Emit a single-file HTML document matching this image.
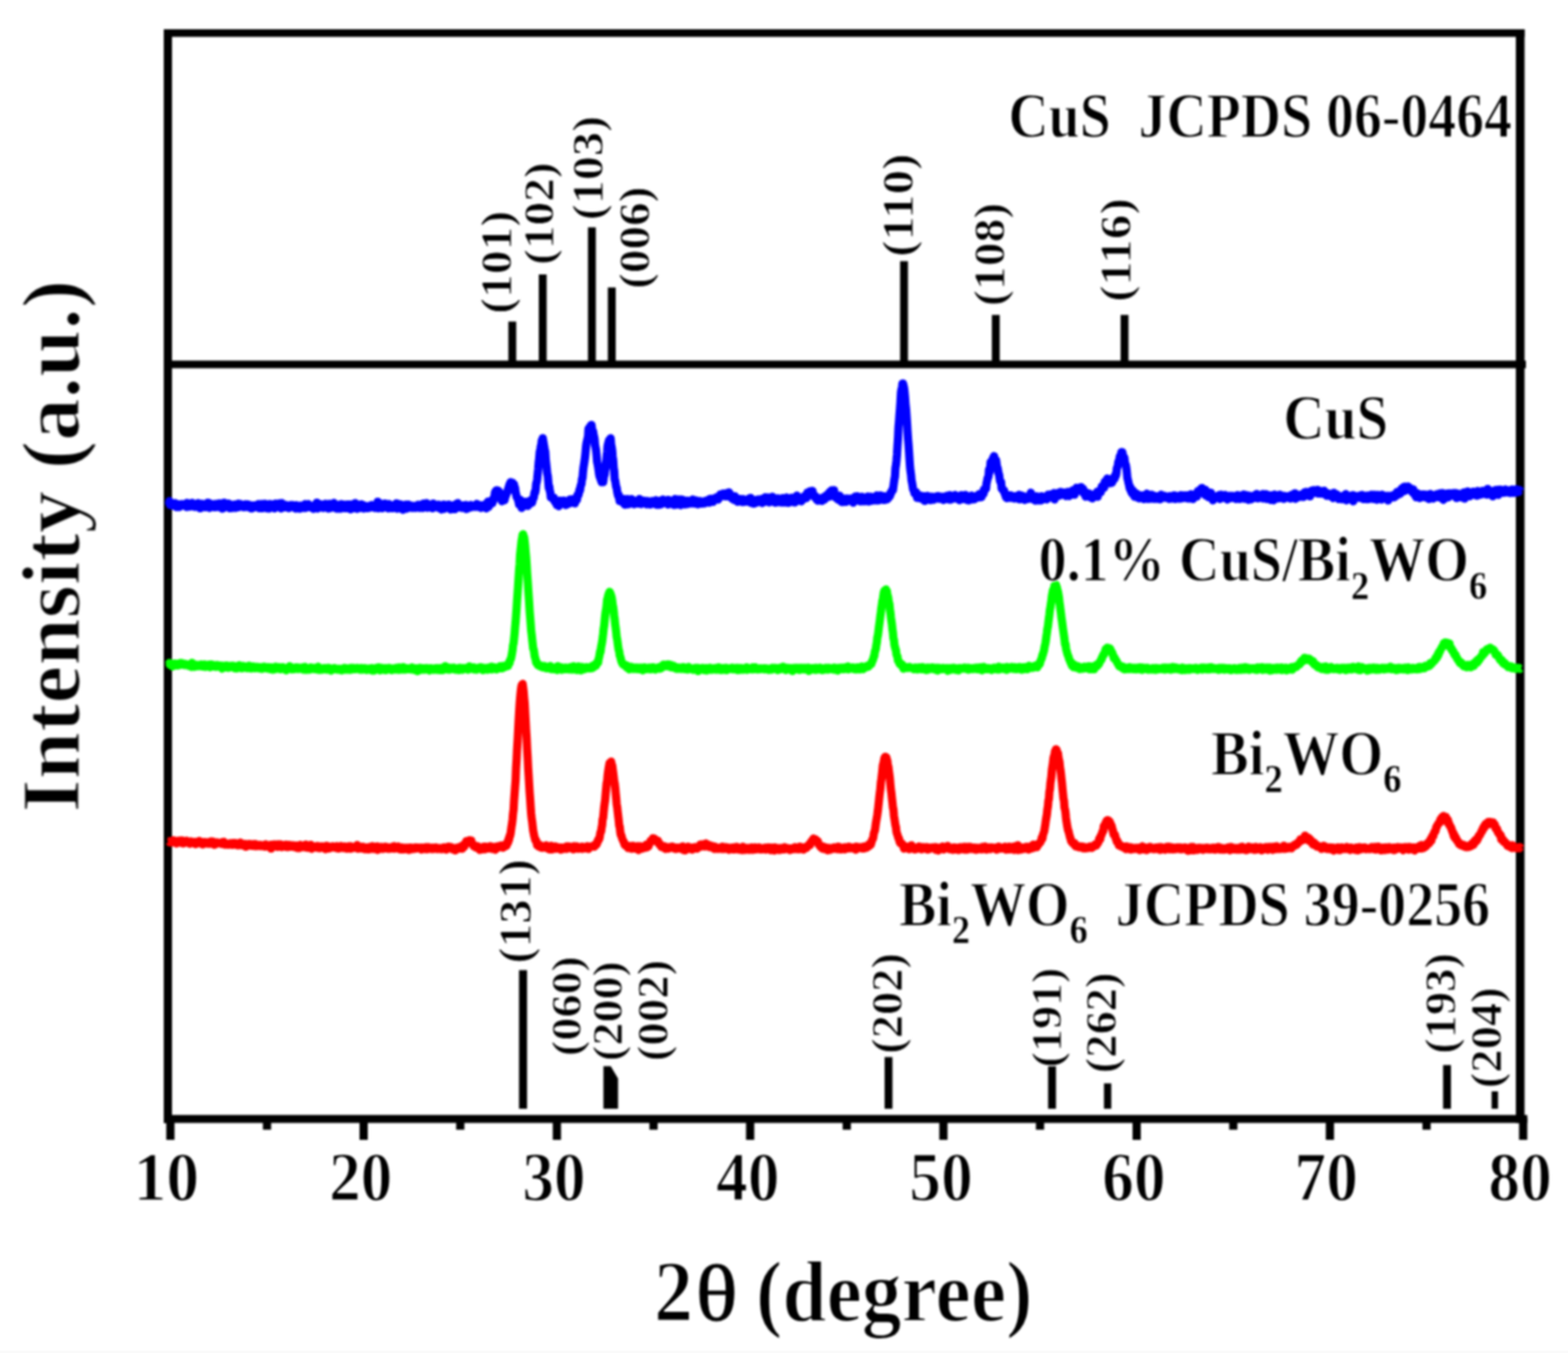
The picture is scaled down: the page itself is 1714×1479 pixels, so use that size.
<!DOCTYPE html>
<html lang="en"><head><meta charset="utf-8"><title>XRD patterns of CuS, Bi2WO6 and CuS/Bi2WO6</title>
<style>
html,body{margin:0;padding:0;background:#fff;}
body{width:1714px;height:1479px;overflow:hidden;}
svg{display:block;}
text{stroke:#fff;stroke-linejoin:round;white-space:pre;}
</style></head><body>
<svg width="1714" height="1479" viewBox="0 0 1714 1479" role="img" aria-label="XRD patterns">
<rect width="1714" height="1479" fill="#fff"/>
<rect y="1476.5" width="1714" height="2.5" fill="#fafafa"/>
<defs><filter id="soft" x="-2%" y="-2%" width="104%" height="104%" color-interpolation-filters="sRGB"><feGaussianBlur stdDeviation="0.9"/></filter></defs>
<g filter="url(#soft)" font-family="'Liberation Serif', 'DejaVu Serif', serif" font-weight="bold" fill="#000">
<g id="frame">
<rect x="179" y="32" width="9" height="1195.5"/>
<rect x="1657" y="32" width="9.5" height="1195.5"/>
<rect x="179" y="32" width="1487.5" height="8.3"/>
<rect x="179" y="394.2" width="1489" height="8.3"/>
<rect x="179" y="1218.8" width="1490.5" height="8.7"/>
<rect x="181.75" y="1222" width="9" height="24.0"/>
<rect x="287.38" y="1222" width="9" height="12.9"/>
<rect x="393.00" y="1222" width="9" height="24.0"/>
<rect x="498.62" y="1222" width="9" height="12.9"/>
<rect x="604.25" y="1222" width="9" height="24.0"/>
<rect x="709.88" y="1222" width="9" height="12.9"/>
<rect x="815.50" y="1222" width="9" height="24.0"/>
<rect x="921.12" y="1222" width="9" height="12.9"/>
<rect x="1026.75" y="1222" width="9" height="24.0"/>
<rect x="1132.38" y="1222" width="9" height="12.9"/>
<rect x="1238.00" y="1222" width="9" height="24.0"/>
<rect x="1343.62" y="1222" width="9" height="12.9"/>
<rect x="1449.25" y="1222" width="9" height="24.0"/>
<rect x="1554.88" y="1222" width="9" height="12.9"/>
<rect x="1660.50" y="1222" width="9" height="24.0"/>
</g>
<g id="sticks">
<rect x="555.70" y="351.50" width="8.6" height="47.00"/>
<rect x="588.95" y="300.00" width="8.6" height="98.50"/>
<rect x="642.70" y="248.50" width="8.6" height="150.00"/>
<rect x="664.45" y="314.25" width="8.6" height="84.25"/>
<rect x="983.90" y="285.50" width="8.6" height="113.00"/>
<rect x="1084.20" y="344.25" width="8.6" height="54.25"/>
<rect x="1224.95" y="344.25" width="8.6" height="54.25"/>
<rect x="567.35" y="1060.50" width="8.8" height="151.50"/>
<rect x="966.95" y="1155.50" width="8.6" height="56.50"/>
<rect x="1145.70" y="1165.50" width="8.6" height="46.50"/>
<rect x="1206.75" y="1184.25" width="8.0" height="27.75"/>
<rect x="1577.45" y="1164.25" width="8.6" height="47.75"/>
<rect x="1630.50" y="1193.00" width="7.0" height="19.00"/>
<polygon points="659.6,1165.5 667.6,1165.5 675.6,1179 675.6,1212 659.6,1212"/>
</g>
<g id="curves" fill="none" stroke-width="9.0" stroke-linejoin="round" stroke-linecap="butt">
<polyline stroke="#0000ff" points="183.5,551.8 184.1,551.8 184.6,551.8 185.2,547.8 185.7,551.8 186.3,551.4 186.8,551.0 187.4,552.3 187.9,552.5 188.5,550.3 189.0,550.6 189.6,551.2 190.1,552.9 190.7,552.7 191.2,550.0 191.8,550.2 192.3,553.0 192.9,554.3 193.4,551.9 194.0,550.9 194.5,553.6 195.1,551.5 195.6,553.1 196.2,554.3 196.7,552.9 197.3,552.1 197.8,553.1 198.4,551.1 198.9,551.8 199.5,551.2 200.0,551.7 200.6,551.3 201.1,551.8 201.7,551.5 202.2,552.2 202.8,552.2 203.3,552.5 203.9,554.2 204.4,549.8 205.0,554.1 205.5,551.8 206.1,550.3 206.6,551.9 207.2,552.3 207.7,553.8 208.3,550.6 208.8,552.5 209.4,552.4 209.9,549.7 210.5,550.4 211.0,553.1 211.6,553.3 212.1,553.9 212.7,553.0 213.2,552.8 213.8,552.4 214.3,554.1 214.9,551.0 215.4,552.1 216.0,552.9 216.5,549.9 217.1,554.3 217.6,551.1 218.2,552.2 218.7,555.6 219.3,551.1 219.8,551.5 220.4,554.7 220.9,550.7 221.5,551.7 222.0,553.1 222.6,553.1 223.1,553.3 223.7,553.0 224.2,554.4 224.8,553.9 225.3,553.3 225.9,551.4 226.4,551.4 227.0,549.6 227.5,553.5 228.1,549.7 228.6,553.8 229.2,555.2 229.7,550.9 230.3,551.5 230.8,551.8 231.4,553.8 231.9,551.2 232.5,552.3 233.0,551.8 233.6,552.2 234.1,554.5 234.7,551.1 235.2,552.7 235.8,553.0 236.3,553.9 236.9,550.7 237.4,554.3 238.0,553.3 238.5,553.9 239.1,552.7 239.6,550.2 240.2,551.7 240.7,553.9 241.3,552.7 241.8,552.6 242.4,555.4 242.9,556.0 243.5,552.6 244.0,555.6 244.6,549.7 245.1,549.6 245.7,554.0 246.2,552.3 246.8,553.6 247.3,553.5 247.9,552.6 248.4,553.8 249.0,553.0 249.5,550.5 250.1,553.1 250.6,553.1 251.2,555.6 251.7,551.1 252.3,552.8 252.8,552.2 253.4,552.6 253.9,555.3 254.5,553.4 255.0,552.2 255.6,553.1 256.1,554.0 256.7,551.4 257.2,552.5 257.8,555.2 258.3,554.2 258.9,552.9 259.4,552.2 260.0,552.7 260.5,550.6 261.1,554.4 261.6,553.5 262.2,553.2 262.7,551.0 263.3,551.9 263.8,553.8 264.4,553.4 264.9,552.3 265.5,553.8 266.0,554.4 266.6,552.0 267.1,552.2 267.7,551.7 268.2,551.3 268.8,554.3 269.3,553.8 269.9,553.6 270.4,551.3 271.0,551.5 271.5,553.0 272.1,552.5 272.6,553.3 273.2,552.1 273.7,554.1 274.3,555.8 274.8,555.5 275.4,555.6 275.9,553.3 276.5,554.6 277.0,552.6 277.6,554.6 278.1,552.6 278.7,552.5 279.2,552.3 279.8,554.3 280.3,553.7 280.9,553.5 281.4,551.5 282.0,553.5 282.5,551.1 283.1,555.5 283.6,553.1 284.2,553.6 284.7,553.1 285.3,550.9 285.8,551.3 286.4,553.3 286.9,555.6 287.5,551.7 288.0,552.3 288.6,553.3 289.1,550.8 289.7,550.8 290.2,552.8 290.8,553.3 291.3,552.8 291.9,555.7 292.4,553.1 293.0,553.9 293.5,555.8 294.1,555.9 294.6,551.0 295.2,552.8 295.7,555.1 296.3,551.3 296.8,552.0 297.4,551.5 297.9,551.4 298.5,551.7 299.0,553.7 299.6,555.3 300.1,555.7 300.7,553.4 301.2,550.5 301.8,553.3 302.3,552.9 302.9,553.9 303.4,553.2 304.0,550.7 304.5,554.0 305.1,550.3 305.6,552.4 306.2,553.9 306.7,553.9 307.3,555.8 307.8,549.9 308.4,553.9 308.9,554.5 309.5,552.9 310.0,554.4 310.6,551.8 311.1,554.4 311.7,554.2 312.2,552.0 312.8,552.4 313.3,553.1 313.9,552.4 314.4,555.0 315.0,553.7 315.5,555.4 316.1,555.2 316.6,553.5 317.2,553.2 317.7,552.0 318.3,552.2 318.8,552.2 319.4,554.0 319.9,552.1 320.5,553.6 321.0,553.7 321.6,552.7 322.1,553.2 322.7,555.6 323.2,555.9 323.8,552.3 324.3,553.2 324.9,552.9 325.4,553.0 326.0,555.8 326.5,554.5 327.1,555.4 327.6,556.1 328.2,552.8 328.7,553.2 329.3,553.5 329.8,555.0 330.4,553.3 330.9,554.4 331.5,555.2 332.0,555.2 332.6,554.1 333.1,552.3 333.7,551.1 334.2,555.2 334.8,554.2 335.3,552.1 335.9,552.7 336.4,552.8 337.0,551.0 337.5,553.9 338.1,552.3 338.6,553.0 339.2,554.6 339.7,553.3 340.3,554.3 340.8,554.1 341.4,553.5 341.9,553.6 342.5,556.3 343.0,553.2 343.6,555.9 344.1,552.1 344.7,554.6 345.2,553.8 345.8,552.4 346.3,549.5 346.9,555.9 347.4,551.8 348.0,552.1 348.5,553.7 349.1,553.6 349.6,553.9 350.2,553.1 350.7,551.3 351.3,554.8 351.8,552.2 352.4,553.8 352.9,554.4 353.5,555.3 354.0,553.2 354.6,553.1 355.1,553.2 355.7,550.7 356.2,552.4 356.8,552.0 357.3,551.8 357.9,553.8 358.4,553.1 359.0,555.9 359.5,555.8 360.1,550.7 360.6,553.7 361.2,552.0 361.7,554.4 362.3,553.8 362.8,554.9 363.4,554.0 363.9,554.7 364.5,553.1 365.0,549.8 365.6,551.8 366.1,552.3 366.7,552.8 367.2,552.0 367.8,556.0 368.3,553.3 368.9,555.5 369.4,553.0 370.0,556.0 370.5,551.7 371.1,554.4 371.6,551.6 372.2,554.2 372.7,555.9 373.3,551.1 373.8,552.2 374.4,553.9 374.9,553.3 375.5,551.5 376.0,555.3 376.6,553.6 377.1,555.5 377.7,554.0 378.2,551.8 378.8,552.8 379.3,555.6 379.9,551.5 380.4,552.9 381.0,554.5 381.5,555.1 382.1,554.8 382.6,551.4 383.2,556.7 383.7,553.3 384.3,553.6 384.8,553.6 385.4,553.2 385.9,552.1 386.5,553.1 387.0,555.6 387.6,551.5 388.1,549.9 388.7,554.4 389.2,554.1 389.8,554.7 390.3,556.2 390.9,552.5 391.4,553.9 392.0,554.3 392.5,555.4 393.1,555.1 393.6,552.3 394.2,551.5 394.7,553.2 395.3,551.2 395.8,555.3 396.4,553.0 396.9,553.1 397.5,552.3 398.0,555.9 398.6,554.0 399.1,553.0 399.7,554.5 400.2,553.5 400.8,554.5 401.3,555.6 401.9,553.2 402.4,554.4 403.0,554.3 403.5,555.3 404.1,554.5 404.6,553.7 405.2,552.6 405.7,554.1 406.3,552.0 406.8,554.6 407.4,553.7 407.9,554.4 408.5,552.8 409.0,552.4 409.6,552.3 410.1,555.3 410.7,553.3 411.2,553.3 411.8,550.9 412.3,553.5 412.9,548.4 413.4,555.7 414.0,553.3 414.5,553.7 415.1,551.5 415.6,552.0 416.2,554.5 416.7,553.3 417.3,554.3 417.8,555.5 418.4,554.6 418.9,550.8 419.5,552.2 420.0,551.9 420.6,552.3 421.1,550.5 421.7,550.6 422.2,552.5 422.8,552.7 423.3,554.4 423.9,553.2 424.4,555.8 425.0,550.9 425.5,551.6 426.1,554.0 426.6,553.2 427.2,552.2 427.7,554.8 428.3,555.3 428.8,555.6 429.4,553.1 429.9,553.6 430.5,554.0 431.0,553.7 431.6,555.2 432.1,552.9 432.7,554.2 433.2,550.3 433.8,554.8 434.3,556.1 434.9,553.6 435.4,555.2 436.0,551.1 436.5,553.1 437.1,551.3 437.6,554.1 438.2,554.4 438.7,551.6 439.3,552.3 439.8,552.7 440.4,557.2 440.9,553.5 441.5,553.8 442.0,554.1 442.6,554.0 443.1,553.2 443.7,551.6 444.2,552.6 444.8,556.0 445.3,554.0 445.9,553.0 446.4,551.5 447.0,553.5 447.5,553.6 448.1,552.6 448.6,554.9 449.2,552.7 449.7,553.3 450.3,554.8 450.8,553.9 451.4,555.2 451.9,553.2 452.5,552.9 453.0,554.2 453.6,553.9 454.1,555.3 454.7,554.1 455.2,553.5 455.8,554.2 456.3,554.5 456.9,551.8 457.4,553.3 458.0,553.0 458.5,555.3 459.1,552.8 459.6,555.1 460.2,551.6 460.7,553.4 461.3,555.1 461.8,553.1 462.4,555.2 462.9,550.4 463.5,553.5 464.0,553.7 464.6,553.3 465.1,551.2 465.7,554.5 466.2,550.0 466.8,554.9 467.3,553.9 467.9,554.9 468.4,553.1 469.0,551.8 469.5,552.7 470.1,552.8 470.6,554.3 471.2,553.0 471.7,554.1 472.3,554.2 472.8,555.6 473.4,550.5 473.9,552.8 474.5,554.5 475.0,554.5 475.6,552.6 476.1,553.0 476.7,553.3 477.2,553.6 477.8,552.6 478.3,552.5 478.9,551.7 479.4,552.8 480.0,555.5 480.5,552.0 481.1,554.9 481.6,556.3 482.2,553.7 482.7,556.9 483.3,553.2 483.8,555.9 484.4,553.3 484.9,551.6 485.5,553.9 486.0,556.2 486.6,552.5 487.1,554.1 487.7,551.9 488.2,552.1 488.8,554.1 489.3,553.1 489.9,554.2 490.4,555.3 491.0,551.6 491.5,552.4 492.1,553.5 492.6,556.9 493.2,552.9 493.7,552.7 494.3,554.0 494.8,556.5 495.4,552.5 495.9,552.9 496.5,553.4 497.0,554.5 497.6,556.6 498.1,551.5 498.7,550.9 499.2,553.6 499.8,554.2 500.3,550.0 500.9,552.5 501.4,554.8 502.0,552.6 502.5,554.1 503.1,553.6 503.6,554.3 504.2,554.0 504.7,553.8 505.3,555.2 505.8,552.5 506.4,553.5 506.9,555.0 507.5,552.5 508.0,552.8 508.6,552.2 509.1,551.9 509.7,556.4 510.2,554.0 510.8,556.1 511.3,554.4 511.9,553.4 512.4,552.9 513.0,553.7 513.5,553.2 514.1,554.7 514.6,552.0 515.2,553.5 515.7,554.0 516.3,552.9 516.8,552.9 517.4,554.1 517.9,554.1 518.5,553.1 519.0,553.2 519.6,552.4 520.1,554.0 520.7,553.0 521.2,550.8 521.8,552.7 522.3,554.0 522.9,553.5 523.4,551.8 524.0,554.2 524.5,553.9 525.1,553.9 525.6,555.3 526.2,552.5 526.7,553.8 527.3,552.5 527.8,554.3 528.4,554.6 528.9,553.5 529.5,553.9 530.0,551.5 530.6,553.6 531.1,550.9 531.7,555.8 532.2,554.3 532.8,550.2 533.3,548.3 533.9,554.1 534.4,550.7 535.0,552.6 535.5,549.5 536.1,551.1 536.6,549.5 537.2,550.6 537.7,548.4 538.3,550.1 538.8,545.5 539.4,547.3 539.9,543.9 540.5,543.2 541.0,538.6 541.6,537.1 542.1,540.2 542.7,535.9 543.2,536.8 543.8,536.7 544.3,536.2 544.9,538.5 545.4,537.1 546.0,538.5 546.5,542.9 547.1,541.6 547.6,545.0 548.2,545.8 548.7,547.9 549.3,546.7 549.8,543.5 550.4,545.2 550.9,545.1 551.5,546.8 552.0,544.5 552.6,542.0 553.1,541.9 553.7,539.1 554.2,538.7 554.8,536.2 555.3,535.8 555.9,532.8 556.4,532.1 557.0,529.2 557.5,529.1 558.1,527.1 558.6,527.9 559.2,527.4 559.7,527.4 560.3,527.8 560.8,529.3 561.4,532.0 561.9,529.6 562.5,536.7 563.0,533.2 563.6,538.3 564.1,539.9 564.7,543.2 565.2,543.9 565.8,544.9 566.3,546.3 566.9,548.6 567.4,551.5 568.0,549.2 568.5,546.1 569.1,549.0 569.6,550.6 570.2,555.2 570.7,549.3 571.3,550.0 571.8,551.5 572.4,551.2 572.9,548.7 573.5,552.2 574.0,548.8 574.6,550.3 575.1,552.7 575.7,548.6 576.2,550.0 576.8,553.0 577.3,550.0 577.9,548.7 578.4,549.2 579.0,551.1 579.5,547.2 580.1,548.3 580.6,546.6 581.2,546.4 581.7,549.3 582.3,546.3 582.8,544.5 583.4,544.3 583.9,540.7 584.5,537.7 585.0,538.5 585.6,535.0 586.1,528.8 586.7,527.1 587.2,523.8 587.8,517.6 588.3,512.6 588.9,504.8 589.4,501.4 590.0,493.8 590.5,493.8 591.1,487.9 591.6,486.9 592.2,481.5 592.7,482.7 593.3,479.0 593.8,481.8 594.4,485.4 594.9,488.2 595.5,491.5 596.0,493.5 596.6,502.9 597.1,507.0 597.7,512.8 598.2,517.8 598.8,520.3 599.3,525.9 599.9,533.3 600.4,531.6 601.0,536.7 601.5,537.9 602.1,543.7 602.6,543.2 603.2,542.9 603.7,544.8 604.3,544.6 604.8,544.0 605.4,543.9 605.9,547.4 606.5,547.1 607.0,549.3 607.6,548.0 608.1,549.7 608.7,552.2 609.2,547.8 609.8,547.8 610.3,551.2 610.9,553.3 611.4,548.4 612.0,547.2 612.5,549.3 613.1,549.1 613.6,550.8 614.2,548.1 614.7,549.3 615.3,549.3 615.8,547.3 616.4,547.3 616.9,550.4 617.5,550.5 618.0,548.4 618.6,552.0 619.1,551.0 619.7,550.2 620.2,550.4 620.8,550.0 621.3,550.5 621.9,550.6 622.4,549.3 623.0,546.0 623.5,548.8 624.1,547.6 624.6,547.0 625.2,549.5 625.7,545.7 626.3,549.4 626.8,546.9 627.4,545.7 627.9,545.8 628.5,550.2 629.0,548.3 629.6,544.9 630.1,546.2 630.7,546.3 631.2,541.1 631.8,540.7 632.3,541.1 632.9,538.6 633.4,535.4 634.0,536.3 634.5,532.2 635.1,529.9 635.6,529.4 636.2,523.3 636.7,523.1 637.3,515.8 637.8,511.2 638.4,507.6 638.9,504.5 639.5,499.9 640.0,495.2 640.6,488.1 641.1,484.6 641.7,481.9 642.2,479.7 642.8,477.4 643.3,468.6 643.9,469.5 644.4,467.1 645.0,466.4 645.5,466.2 646.1,464.6 646.6,464.5 647.2,469.4 647.7,470.9 648.3,471.5 648.8,474.9 649.4,477.3 649.9,479.9 650.5,486.9 651.0,489.0 651.6,492.4 652.1,497.4 652.7,504.9 653.2,507.1 653.8,510.6 654.3,513.9 654.9,518.3 655.4,521.0 656.0,520.4 656.5,524.0 657.1,524.9 657.6,527.1 658.2,526.9 658.7,523.5 659.3,527.1 659.8,523.8 660.4,518.1 660.9,519.2 661.5,513.7 662.0,509.7 662.6,504.3 663.1,499.5 663.7,493.6 664.2,487.3 664.8,484.9 665.3,483.0 665.9,480.8 666.4,481.0 667.0,480.4 667.5,479.0 668.1,486.7 668.6,488.3 669.2,492.3 669.7,499.2 670.3,503.1 670.8,511.3 671.4,514.7 671.9,524.1 672.5,525.4 673.0,529.0 673.6,532.5 674.1,533.2 674.7,537.7 675.2,540.0 675.8,542.3 676.3,540.7 676.9,545.2 677.4,547.8 678.0,545.8 678.5,546.8 679.1,547.9 679.6,546.3 680.2,547.0 680.7,549.3 681.3,548.2 681.8,546.2 682.4,545.4 682.9,551.7 683.5,548.9 684.0,545.9 684.6,548.6 685.1,549.4 685.7,548.6 686.2,545.6 686.8,551.2 687.3,549.4 687.9,548.2 688.4,549.6 689.0,548.2 689.5,548.1 690.1,550.0 690.6,545.6 691.2,550.2 691.7,549.2 692.3,549.8 692.8,550.1 693.4,551.1 693.9,550.9 694.5,550.0 695.0,548.1 695.6,549.8 696.1,548.0 696.7,547.3 697.2,549.4 697.8,549.3 698.3,550.6 698.9,545.5 699.4,549.7 700.0,549.8 700.5,548.9 701.1,551.0 701.6,547.4 702.2,549.3 702.7,548.2 703.3,548.8 703.8,547.3 704.4,548.6 704.9,549.9 705.5,549.0 706.0,549.4 706.6,547.7 707.1,551.3 707.7,547.8 708.2,548.9 708.8,549.8 709.3,548.6 709.9,550.0 710.4,549.2 711.0,551.5 711.5,549.7 712.1,549.5 712.6,547.7 713.2,549.6 713.7,550.4 714.3,549.5 714.8,547.5 715.4,548.1 715.9,548.5 716.5,548.9 717.0,546.8 717.6,551.7 718.1,548.7 718.7,549.1 719.2,548.2 719.8,548.8 720.3,551.8 720.9,547.4 721.4,548.1 722.0,547.3 722.5,548.0 723.1,551.2 723.6,547.9 724.2,548.2 724.7,546.1 725.3,548.3 725.8,549.2 726.4,548.1 726.9,548.3 727.5,550.1 728.0,549.7 728.6,548.7 729.1,547.7 729.7,546.6 730.2,551.4 730.8,546.5 731.3,549.8 731.9,548.6 732.4,547.8 733.0,550.2 733.5,547.7 734.1,550.8 734.6,547.3 735.2,549.6 735.7,550.8 736.3,547.4 736.8,552.0 737.4,550.1 737.9,545.5 738.5,550.9 739.0,551.7 739.6,548.5 740.1,548.6 740.7,549.4 741.2,546.0 741.8,549.1 742.3,550.2 742.9,548.0 743.4,550.5 744.0,552.2 744.5,545.9 745.1,546.1 745.6,547.8 746.2,549.8 746.7,549.4 747.3,547.4 747.8,547.1 748.4,547.7 748.9,551.4 749.5,547.4 750.0,547.9 750.6,550.2 751.1,548.4 751.7,547.3 752.2,550.9 752.8,549.3 753.3,547.7 753.9,548.2 754.4,550.2 755.0,548.2 755.5,549.2 756.1,550.1 756.6,550.3 757.2,546.0 757.7,548.0 758.3,548.3 758.8,548.9 759.4,549.9 759.9,550.5 760.5,548.1 761.0,547.1 761.6,549.0 762.1,547.8 762.7,551.3 763.2,549.2 763.8,548.8 764.3,550.2 764.9,547.7 765.4,548.1 766.0,548.4 766.5,549.6 767.1,550.6 767.6,549.8 768.2,549.7 768.7,548.2 769.3,549.1 769.8,548.1 770.4,550.2 770.9,547.5 771.5,548.3 772.0,548.7 772.6,549.4 773.1,547.1 773.7,547.8 774.2,546.8 774.8,545.9 775.3,549.5 775.9,548.4 776.4,545.3 777.0,546.0 777.5,548.1 778.1,546.2 778.6,545.3 779.2,548.6 779.7,545.8 780.3,545.7 780.8,546.8 781.4,544.6 781.9,545.5 782.5,545.4 783.0,545.9 783.6,543.4 784.1,545.8 784.7,544.3 785.2,546.1 785.8,543.4 786.3,541.9 786.9,541.6 787.4,540.4 788.0,541.8 788.5,541.4 789.1,542.6 789.6,541.1 790.2,539.5 790.7,542.1 791.3,539.8 791.8,540.8 792.4,542.5 792.9,542.2 793.5,539.3 794.0,540.3 794.6,542.6 795.1,542.2 795.7,541.8 796.2,542.5 796.8,538.2 797.3,541.3 797.9,539.8 798.4,541.4 799.0,542.1 799.5,543.7 800.1,545.1 800.6,544.8 801.2,544.3 801.7,543.7 802.3,546.5 802.8,545.2 803.4,542.4 803.9,545.3 804.5,546.4 805.0,544.4 805.6,546.4 806.1,548.5 806.7,546.0 807.2,546.5 807.8,546.7 808.3,545.4 808.9,546.3 809.4,545.6 810.0,546.7 810.5,546.0 811.1,548.8 811.6,547.2 812.2,548.7 812.7,545.6 813.3,547.5 813.8,548.4 814.4,548.6 814.9,546.6 815.5,547.4 816.0,547.8 816.6,547.1 817.1,547.0 817.7,548.4 818.2,545.8 818.8,544.9 819.3,546.9 819.9,548.0 820.4,544.2 821.0,549.7 821.5,547.8 822.1,548.5 822.6,546.3 823.2,547.5 823.7,550.4 824.3,550.4 824.8,548.5 825.4,547.2 825.9,547.4 826.5,549.6 827.0,546.5 827.6,546.2 828.1,547.3 828.7,548.9 829.2,545.9 829.8,548.1 830.3,548.1 830.9,547.7 831.4,547.3 832.0,548.9 832.5,548.3 833.1,545.2 833.6,549.9 834.2,548.1 834.7,547.9 835.3,546.9 835.8,547.0 836.4,543.6 836.9,547.0 837.5,548.3 838.0,548.3 838.6,546.3 839.1,543.7 839.7,545.6 840.2,546.8 840.8,549.2 841.3,544.8 841.9,547.3 842.4,548.2 843.0,548.2 843.5,547.1 844.1,543.0 844.6,548.2 845.2,547.4 845.7,548.0 846.3,545.8 846.8,546.5 847.4,549.5 847.9,547.1 848.5,547.2 849.0,546.1 849.6,549.1 850.1,544.7 850.7,546.4 851.2,547.8 851.8,547.1 852.3,548.5 852.9,547.8 853.4,549.3 854.0,546.8 854.5,546.9 855.1,547.6 855.6,544.4 856.2,549.3 856.7,545.7 857.3,548.8 857.8,549.3 858.4,548.6 858.9,547.4 859.5,546.1 860.0,543.8 860.6,547.9 861.1,546.7 861.7,549.7 862.2,546.6 862.8,548.0 863.3,546.4 863.9,547.7 864.4,546.5 865.0,546.7 865.5,544.1 866.1,545.9 866.6,546.7 867.2,548.9 867.7,547.3 868.3,545.0 868.8,549.3 869.4,547.4 869.9,548.5 870.5,545.4 871.0,541.8 871.6,545.6 872.1,545.1 872.7,547.1 873.2,544.2 873.8,545.1 874.3,544.3 874.9,546.5 875.4,544.7 876.0,548.0 876.5,546.8 877.1,546.6 877.6,544.7 878.2,544.9 878.7,545.4 879.3,542.3 879.8,544.9 880.4,542.3 880.9,543.7 881.5,544.6 882.0,543.0 882.6,538.4 883.1,541.4 883.7,538.7 884.2,538.2 884.8,538.4 885.3,536.9 885.9,539.2 886.4,538.1 887.0,541.2 887.5,540.5 888.1,536.6 888.6,539.6 889.2,540.2 889.7,541.2 890.3,541.8 890.8,543.7 891.4,543.6 891.9,542.7 892.5,545.4 893.0,546.4 893.6,545.3 894.1,547.3 894.7,546.3 895.2,544.9 895.8,545.3 896.3,545.9 896.9,546.7 897.4,546.2 898.0,547.3 898.5,547.5 899.1,544.1 899.6,543.7 900.2,545.0 900.7,545.6 901.3,546.0 901.8,545.2 902.4,544.7 902.9,541.8 903.5,543.2 904.0,541.1 904.6,542.1 905.1,542.2 905.7,539.2 906.2,539.3 906.8,542.9 907.3,537.7 907.9,537.7 908.4,536.7 909.0,536.1 909.5,539.9 910.1,537.6 910.6,538.1 911.2,538.3 911.7,535.8 912.3,541.7 912.8,540.4 913.4,541.7 913.9,544.4 914.5,542.7 915.0,543.6 915.6,544.1 916.1,546.2 916.7,542.6 917.2,544.1 917.8,541.8 918.3,545.4 918.9,546.5 919.4,545.0 920.0,548.7 920.5,547.3 921.1,548.8 921.6,546.1 922.2,548.7 922.7,545.1 923.3,546.6 923.8,546.1 924.4,545.3 924.9,548.5 925.5,548.0 926.0,544.9 926.6,547.0 927.1,546.1 927.7,546.2 928.2,546.9 928.8,545.2 929.3,546.3 929.9,546.4 930.4,545.0 931.0,545.2 931.5,547.2 932.1,546.0 932.6,549.5 933.2,549.1 933.7,544.8 934.3,546.3 934.8,542.8 935.4,544.8 935.9,544.4 936.5,544.6 937.0,542.5 937.6,546.1 938.1,545.9 938.7,544.5 939.2,545.6 939.8,547.1 940.3,548.1 940.9,543.6 941.4,548.0 942.0,543.0 942.5,544.3 943.1,545.0 943.6,547.9 944.2,546.4 944.7,546.4 945.3,547.9 945.8,545.8 946.4,544.8 946.9,547.7 947.5,545.1 948.0,543.5 948.6,542.8 949.1,545.6 949.7,548.2 950.2,546.4 950.8,545.4 951.3,547.1 951.9,543.0 952.4,545.9 953.0,544.4 953.5,547.3 954.1,543.9 954.6,546.3 955.2,545.4 955.7,545.1 956.3,546.1 956.8,544.8 957.4,547.1 957.9,544.6 958.5,541.6 959.0,547.1 959.6,546.8 960.1,545.6 960.7,546.9 961.2,545.7 961.8,543.4 962.3,541.5 962.9,543.0 963.4,544.1 964.0,545.2 964.5,542.2 965.1,542.9 965.6,546.5 966.2,543.1 966.7,543.0 967.3,542.6 967.8,546.4 968.4,545.0 968.9,545.0 969.5,546.0 970.0,544.8 970.6,545.1 971.1,543.3 971.7,543.7 972.2,542.9 972.8,542.4 973.3,538.9 973.9,539.4 974.4,538.0 975.0,536.1 975.5,535.2 976.1,535.8 976.6,531.8 977.2,527.3 977.7,523.8 978.3,521.0 978.8,511.9 979.4,508.5 979.9,504.0 980.5,497.1 981.0,488.2 981.6,479.6 982.1,467.7 982.7,461.0 983.2,453.7 983.8,446.4 984.3,439.1 984.9,428.6 985.4,425.9 986.0,423.1 986.5,419.2 987.1,419.3 987.6,421.4 988.2,423.8 988.7,427.8 989.3,434.1 989.8,441.3 990.4,446.7 990.9,453.5 991.5,462.4 992.0,471.1 992.6,480.0 993.1,485.7 993.7,494.3 994.2,502.1 994.8,510.8 995.3,515.2 995.9,519.1 996.4,525.0 997.0,527.7 997.5,530.8 998.1,534.7 998.6,535.7 999.2,537.2 999.7,539.4 1000.3,538.6 1000.8,540.4 1001.4,537.8 1001.9,540.9 1002.5,544.3 1003.0,541.7 1003.6,542.5 1004.1,542.1 1004.7,541.4 1005.2,543.8 1005.8,543.1 1006.3,544.9 1006.9,542.0 1007.4,543.5 1008.0,543.0 1008.5,542.6 1009.1,545.2 1009.6,542.5 1010.2,542.6 1010.7,547.5 1011.3,543.6 1011.8,543.5 1012.4,544.5 1012.9,542.3 1013.5,544.4 1014.0,542.1 1014.6,543.2 1015.1,543.0 1015.7,545.9 1016.2,544.9 1016.8,546.7 1017.3,546.5 1017.9,542.9 1018.4,544.8 1019.0,543.3 1019.5,543.1 1020.1,545.8 1020.6,546.2 1021.2,544.2 1021.7,544.5 1022.3,544.5 1022.8,544.5 1023.4,544.6 1023.9,542.5 1024.5,545.0 1025.0,543.0 1025.6,542.3 1026.1,543.8 1026.7,544.5 1027.2,545.3 1027.8,544.6 1028.3,544.5 1028.9,543.0 1029.4,544.6 1030.0,544.4 1030.5,544.5 1031.1,542.9 1031.6,546.6 1032.2,545.2 1032.7,545.0 1033.3,544.2 1033.8,543.6 1034.4,545.4 1034.9,542.0 1035.5,543.3 1036.0,543.5 1036.6,544.8 1037.1,543.5 1037.7,546.1 1038.2,541.3 1038.8,546.3 1039.3,544.4 1039.9,545.3 1040.4,543.2 1041.0,545.5 1041.5,543.4 1042.1,544.3 1042.6,541.7 1043.2,544.7 1043.7,544.1 1044.3,541.1 1044.8,543.8 1045.4,543.4 1045.9,545.1 1046.5,542.9 1047.0,544.2 1047.6,545.8 1048.1,542.6 1048.7,546.7 1049.2,544.3 1049.8,543.5 1050.3,541.8 1050.9,541.2 1051.4,545.3 1052.0,543.2 1052.5,542.9 1053.1,545.5 1053.6,544.9 1054.2,544.0 1054.7,541.6 1055.3,540.9 1055.8,545.2 1056.4,543.7 1056.9,543.4 1057.5,546.7 1058.0,543.1 1058.6,544.3 1059.1,547.0 1059.7,544.7 1060.2,542.9 1060.8,542.4 1061.3,545.5 1061.9,541.8 1062.4,544.9 1063.0,546.1 1063.5,543.5 1064.1,544.9 1064.6,543.7 1065.2,545.7 1065.7,543.9 1066.3,542.4 1066.8,544.0 1067.4,543.6 1067.9,542.4 1068.5,542.9 1069.0,541.3 1069.6,541.7 1070.1,543.8 1070.7,539.9 1071.2,542.8 1071.8,542.1 1072.3,540.9 1072.9,543.4 1073.4,541.8 1074.0,539.2 1074.5,539.6 1075.1,539.8 1075.6,534.9 1076.2,536.4 1076.7,534.2 1077.3,533.6 1077.8,534.3 1078.4,528.1 1078.9,526.4 1079.5,522.8 1080.0,522.4 1080.6,520.5 1081.1,513.2 1081.7,516.5 1082.2,514.1 1082.8,505.2 1083.3,504.7 1083.9,505.7 1084.4,503.4 1085.0,503.7 1085.5,500.6 1086.1,502.6 1086.6,498.6 1087.2,501.9 1087.7,501.6 1088.3,503.0 1088.8,502.8 1089.4,507.0 1089.9,512.0 1090.5,511.4 1091.0,514.7 1091.6,517.8 1092.1,518.8 1092.7,523.2 1093.2,526.1 1093.8,527.2 1094.3,526.9 1094.9,534.0 1095.4,533.5 1096.0,535.0 1096.5,536.1 1097.1,536.7 1097.6,536.2 1098.2,539.5 1098.7,540.5 1099.3,542.4 1099.8,543.9 1100.4,540.8 1100.9,544.6 1101.5,542.6 1102.0,543.6 1102.6,541.4 1103.1,543.6 1103.7,541.7 1104.2,544.3 1104.8,541.4 1105.3,543.4 1105.9,542.8 1106.4,544.0 1107.0,543.9 1107.5,543.8 1108.1,542.8 1108.6,544.9 1109.2,544.5 1109.7,542.5 1110.3,544.8 1110.8,542.7 1111.4,543.8 1111.9,543.6 1112.5,543.6 1113.0,545.0 1113.6,541.0 1114.1,545.7 1114.7,541.1 1115.2,545.7 1115.8,544.7 1116.3,541.6 1116.9,544.4 1117.4,543.4 1118.0,542.1 1118.5,545.7 1119.1,545.6 1119.6,544.5 1120.2,546.4 1120.7,544.1 1121.3,543.5 1121.8,545.9 1122.4,542.8 1122.9,545.1 1123.5,545.6 1124.0,544.3 1124.6,544.1 1125.1,544.7 1125.7,544.3 1126.2,542.9 1126.8,538.6 1127.3,543.2 1127.9,541.8 1128.4,545.5 1129.0,543.3 1129.5,544.3 1130.1,545.1 1130.6,545.5 1131.2,542.6 1131.7,547.3 1132.3,545.4 1132.8,545.0 1133.4,542.6 1133.9,547.0 1134.5,545.0 1135.0,545.7 1135.6,543.5 1136.1,546.9 1136.7,546.2 1137.2,543.8 1137.8,547.0 1138.3,542.4 1138.9,545.3 1139.4,544.9 1140.0,545.0 1140.5,542.9 1141.1,543.4 1141.6,545.4 1142.2,545.5 1142.7,543.8 1143.3,543.5 1143.8,543.1 1144.4,545.9 1144.9,543.6 1145.5,543.0 1146.0,540.9 1146.6,541.0 1147.1,542.0 1147.7,540.6 1148.2,543.0 1148.8,543.1 1149.3,542.0 1149.9,542.8 1150.4,543.2 1151.0,540.6 1151.5,544.3 1152.1,538.9 1152.6,545.9 1153.2,540.5 1153.7,542.6 1154.3,541.8 1154.8,542.7 1155.4,540.7 1155.9,542.4 1156.5,538.8 1157.0,542.1 1157.6,540.2 1158.1,540.8 1158.7,541.5 1159.2,537.8 1159.8,538.5 1160.3,538.0 1160.9,538.8 1161.4,539.0 1162.0,539.7 1162.5,538.9 1163.1,538.4 1163.6,539.5 1164.2,540.3 1164.7,540.4 1165.3,542.3 1165.8,538.4 1166.4,539.9 1166.9,537.7 1167.5,538.9 1168.0,541.1 1168.6,542.2 1169.1,539.6 1169.7,541.1 1170.2,540.5 1170.8,541.0 1171.3,540.4 1171.9,539.1 1172.4,536.1 1173.0,536.8 1173.5,539.2 1174.1,538.0 1174.6,540.8 1175.2,537.1 1175.7,537.8 1176.3,534.1 1176.8,533.2 1177.4,535.1 1177.9,536.9 1178.5,534.6 1179.0,533.3 1179.6,534.2 1180.1,534.5 1180.7,534.3 1181.2,533.9 1181.8,532.5 1182.3,532.8 1182.9,534.2 1183.4,535.4 1184.0,534.2 1184.5,539.2 1185.1,538.3 1185.6,537.2 1186.2,539.8 1186.7,542.9 1187.3,540.1 1187.8,540.6 1188.4,542.2 1188.9,539.0 1189.5,540.6 1190.0,540.6 1190.6,543.1 1191.1,539.6 1191.7,542.8 1192.2,541.7 1192.8,542.1 1193.3,541.7 1193.9,544.8 1194.4,541.2 1195.0,540.7 1195.5,542.8 1196.1,541.4 1196.6,542.8 1197.2,541.8 1197.7,541.7 1198.3,541.4 1198.8,538.4 1199.4,537.5 1199.9,543.1 1200.5,537.8 1201.0,539.8 1201.6,536.6 1202.1,537.5 1202.7,536.4 1203.2,538.2 1203.8,534.8 1204.3,531.9 1204.9,531.2 1205.4,532.8 1206.0,532.7 1206.5,533.5 1207.1,532.8 1207.6,526.6 1208.2,527.8 1208.7,525.4 1209.3,527.1 1209.8,527.4 1210.4,523.1 1210.9,526.9 1211.5,526.5 1212.0,525.1 1212.6,524.6 1213.1,528.2 1213.7,525.6 1214.2,524.3 1214.8,526.3 1215.3,527.7 1215.9,527.1 1216.4,522.8 1217.0,523.3 1217.5,524.0 1218.1,523.8 1218.6,522.6 1219.2,518.9 1219.7,520.4 1220.3,517.6 1220.8,512.2 1221.4,510.6 1221.9,509.3 1222.5,504.5 1223.0,504.2 1223.6,502.0 1224.1,498.8 1224.7,498.5 1225.2,498.8 1225.8,494.2 1226.3,495.5 1226.9,494.3 1227.4,498.2 1228.0,499.1 1228.5,499.2 1229.1,500.6 1229.6,505.4 1230.2,507.1 1230.7,508.4 1231.3,511.9 1231.8,516.4 1232.4,523.0 1232.9,524.3 1233.5,527.5 1234.0,529.4 1234.6,532.4 1235.1,534.6 1235.7,532.5 1236.2,536.7 1236.8,538.0 1237.3,539.0 1237.9,539.8 1238.4,536.2 1239.0,540.9 1239.5,539.1 1240.1,542.9 1240.6,541.1 1241.2,541.7 1241.7,542.2 1242.3,539.4 1242.8,542.3 1243.4,540.8 1243.9,544.2 1244.5,542.0 1245.0,541.2 1245.6,544.8 1246.1,542.5 1246.7,541.5 1247.2,542.9 1247.8,542.8 1248.3,543.4 1248.9,541.6 1249.4,544.7 1250.0,543.6 1250.5,545.6 1251.1,544.0 1251.6,541.7 1252.2,544.8 1252.7,542.9 1253.3,543.4 1253.8,539.6 1254.4,541.4 1254.9,545.4 1255.5,545.0 1256.0,540.7 1256.6,543.8 1257.1,543.9 1257.7,545.2 1258.2,541.7 1258.8,540.8 1259.3,543.8 1259.9,542.4 1260.4,542.5 1261.0,542.0 1261.5,545.3 1262.1,542.1 1262.6,544.9 1263.2,544.3 1263.7,542.4 1264.3,544.9 1264.8,545.3 1265.4,544.0 1265.9,543.1 1266.5,544.6 1267.0,542.3 1267.6,544.2 1268.1,545.8 1268.7,541.4 1269.2,540.8 1269.8,544.6 1270.3,542.1 1270.9,542.8 1271.4,543.7 1272.0,542.5 1272.5,543.7 1273.1,542.0 1273.6,542.7 1274.2,543.3 1274.7,544.3 1275.3,542.9 1275.8,544.0 1276.4,544.4 1276.9,544.2 1277.5,543.3 1278.0,545.4 1278.6,542.3 1279.1,545.1 1279.7,545.0 1280.2,544.8 1280.8,542.7 1281.3,544.9 1281.9,544.2 1282.4,541.8 1283.0,543.0 1283.5,541.5 1284.1,544.1 1284.6,545.6 1285.2,544.9 1285.7,542.0 1286.3,542.0 1286.8,543.2 1287.4,543.3 1287.9,544.6 1288.5,543.0 1289.0,545.2 1289.6,542.7 1290.1,545.0 1290.7,541.3 1291.2,542.6 1291.8,543.5 1292.3,544.7 1292.9,544.2 1293.4,542.2 1294.0,541.5 1294.5,543.4 1295.1,543.3 1295.6,542.8 1296.2,543.4 1296.7,541.4 1297.3,544.1 1297.8,544.8 1298.4,542.0 1298.9,542.0 1299.5,545.1 1300.0,544.8 1300.6,541.9 1301.1,542.0 1301.7,540.3 1302.2,543.5 1302.8,542.9 1303.3,542.5 1303.9,545.6 1304.4,541.7 1305.0,541.6 1305.5,541.8 1306.1,540.8 1306.6,542.4 1307.2,540.1 1307.7,540.1 1308.3,542.8 1308.8,538.1 1309.4,536.8 1309.9,538.4 1310.5,536.8 1311.0,536.4 1311.6,537.4 1312.1,538.1 1312.7,534.3 1313.2,536.2 1313.8,533.4 1314.3,538.0 1314.9,535.2 1315.4,538.0 1316.0,540.0 1316.5,539.7 1317.1,538.7 1317.6,535.5 1318.2,541.7 1318.7,538.7 1319.3,541.0 1319.8,539.4 1320.4,540.2 1320.9,543.4 1321.5,538.8 1322.0,539.8 1322.6,541.5 1323.1,543.7 1323.7,538.6 1324.2,544.4 1324.8,542.1 1325.3,543.9 1325.9,546.9 1326.4,543.8 1327.0,544.7 1327.5,545.2 1328.1,542.7 1328.6,543.4 1329.2,543.0 1329.7,543.6 1330.3,542.8 1330.8,542.5 1331.4,542.4 1331.9,544.5 1332.5,541.3 1333.0,543.5 1333.6,545.4 1334.1,541.3 1334.7,540.7 1335.2,544.4 1335.8,542.1 1336.3,542.3 1336.9,544.3 1337.4,543.8 1338.0,542.3 1338.5,542.9 1339.1,541.1 1339.6,542.5 1340.2,543.2 1340.7,544.2 1341.3,544.2 1341.8,546.0 1342.4,543.3 1342.9,544.9 1343.5,543.8 1344.0,541.9 1344.6,543.8 1345.1,543.9 1345.7,544.4 1346.2,544.1 1346.8,543.6 1347.3,542.0 1347.9,542.9 1348.4,543.8 1349.0,544.3 1349.5,544.6 1350.1,543.9 1350.6,544.3 1351.2,545.5 1351.7,543.7 1352.3,542.5 1352.8,541.2 1353.4,543.4 1353.9,544.3 1354.5,542.8 1355.0,545.6 1355.6,542.0 1356.1,542.8 1356.7,543.3 1357.2,541.5 1357.8,544.8 1358.3,542.2 1358.9,541.5 1359.4,540.6 1360.0,544.7 1360.5,545.2 1361.1,541.8 1361.6,541.1 1362.2,542.6 1362.7,543.3 1363.3,542.5 1363.8,544.0 1364.4,541.7 1364.9,546.4 1365.5,543.8 1366.0,544.8 1366.6,542.7 1367.1,544.7 1367.7,545.8 1368.2,542.2 1368.8,543.5 1369.3,544.8 1369.9,543.9 1370.4,542.0 1371.0,542.6 1371.5,544.2 1372.1,543.8 1372.6,542.3 1373.2,543.8 1373.7,539.9 1374.3,543.4 1374.8,544.7 1375.4,544.7 1375.9,542.6 1376.5,543.7 1377.0,543.6 1377.6,543.1 1378.1,542.0 1378.7,541.1 1379.2,542.3 1379.8,541.3 1380.3,540.0 1380.9,544.9 1381.4,540.9 1382.0,542.1 1382.5,542.0 1383.1,540.3 1383.6,543.4 1384.2,540.3 1384.7,545.5 1385.3,540.8 1385.8,541.6 1386.4,542.6 1386.9,542.6 1387.5,542.8 1388.0,544.5 1388.6,544.9 1389.1,546.5 1389.7,541.4 1390.2,544.8 1390.8,544.3 1391.3,542.8 1391.9,541.3 1392.4,546.9 1393.0,545.1 1393.5,540.6 1394.1,545.6 1394.6,544.0 1395.2,543.7 1395.7,544.5 1396.3,542.4 1396.8,543.1 1397.4,544.7 1397.9,541.5 1398.5,541.2 1399.0,540.7 1399.6,544.4 1400.1,541.6 1400.7,542.7 1401.2,542.5 1401.8,544.1 1402.3,543.8 1402.9,542.0 1403.4,545.3 1404.0,543.8 1404.5,543.7 1405.1,542.5 1405.6,542.7 1406.2,542.8 1406.7,543.2 1407.3,543.8 1407.8,543.8 1408.4,542.7 1408.9,542.9 1409.5,544.1 1410.0,544.9 1410.6,544.9 1411.1,543.0 1411.7,541.1 1412.2,543.2 1412.8,543.2 1413.3,543.0 1413.9,543.6 1414.4,542.0 1415.0,542.9 1415.5,539.2 1416.1,545.3 1416.6,542.6 1417.2,542.0 1417.7,543.2 1418.3,542.0 1418.8,541.2 1419.4,543.4 1419.9,542.2 1420.5,541.0 1421.0,542.9 1421.6,542.5 1422.1,542.2 1422.7,541.1 1423.2,543.1 1423.8,539.9 1424.3,542.4 1424.9,543.3 1425.4,539.5 1426.0,541.1 1426.5,537.9 1427.1,540.5 1427.6,537.7 1428.2,538.1 1428.7,540.3 1429.3,541.4 1429.8,540.4 1430.4,539.1 1430.9,538.1 1431.5,539.2 1432.0,542.6 1432.6,541.0 1433.1,536.7 1433.7,537.5 1434.2,536.2 1434.8,539.1 1435.3,537.7 1435.9,535.7 1436.4,537.7 1437.0,537.1 1437.5,536.2 1438.1,537.2 1438.6,538.9 1439.2,536.2 1439.7,537.0 1440.3,535.4 1440.8,536.9 1441.4,539.6 1441.9,538.4 1442.5,536.5 1443.0,536.7 1443.6,539.6 1444.1,537.6 1444.7,537.1 1445.2,539.7 1445.8,537.5 1446.3,537.1 1446.9,538.9 1447.4,536.5 1448.0,538.0 1448.5,537.6 1449.1,539.1 1449.6,538.9 1450.2,542.0 1450.7,540.5 1451.3,539.6 1451.8,540.6 1452.4,539.6 1452.9,540.5 1453.5,541.2 1454.0,541.1 1454.6,542.7 1455.1,541.6 1455.7,539.9 1456.2,541.5 1456.8,539.5 1457.3,544.4 1457.9,538.7 1458.4,541.5 1459.0,542.6 1459.5,540.5 1460.1,541.4 1460.6,543.7 1461.2,540.4 1461.7,543.7 1462.3,542.1 1462.8,542.0 1463.4,545.6 1463.9,543.9 1464.5,543.4 1465.0,542.5 1465.6,543.2 1466.1,542.8 1466.7,545.8 1467.2,543.4 1467.8,542.1 1468.3,542.5 1468.9,543.9 1469.4,541.7 1470.0,542.2 1470.5,541.0 1471.1,540.0 1471.6,546.9 1472.2,543.2 1472.7,546.2 1473.3,544.4 1473.8,544.0 1474.4,542.0 1474.9,543.6 1475.5,543.9 1476.0,542.3 1476.6,544.8 1477.1,545.6 1477.7,544.4 1478.2,544.1 1478.8,541.2 1479.3,548.0 1479.9,544.9 1480.4,542.0 1481.0,542.0 1481.5,542.8 1482.1,542.3 1482.6,543.8 1483.2,542.5 1483.7,544.0 1484.3,543.1 1484.8,543.4 1485.4,542.0 1485.9,544.0 1486.5,544.2 1487.0,542.5 1487.6,541.2 1488.1,543.8 1488.7,541.0 1489.2,542.5 1489.8,544.4 1490.3,545.6 1490.9,543.3 1491.4,544.2 1492.0,545.6 1492.5,542.1 1493.1,543.0 1493.6,544.1 1494.2,545.7 1494.7,541.8 1495.3,541.8 1495.8,545.1 1496.4,545.4 1496.9,542.7 1497.5,543.7 1498.0,545.1 1498.6,543.3 1499.1,540.7 1499.7,543.9 1500.2,545.0 1500.8,541.6 1501.3,545.5 1501.9,543.0 1502.4,540.8 1503.0,543.8 1503.5,541.2 1504.1,545.6 1504.6,544.2 1505.2,546.2 1505.7,540.9 1506.3,543.7 1506.8,545.7 1507.4,545.3 1507.9,544.4 1508.5,544.0 1509.0,544.4 1509.6,545.0 1510.1,546.1 1510.7,540.7 1511.2,541.8 1511.8,542.5 1512.3,543.7 1512.9,543.9 1513.4,542.8 1514.0,543.2 1514.5,544.5 1515.1,545.1 1515.6,542.1 1516.2,542.8 1516.7,543.3 1517.3,547.0 1517.8,542.1 1518.4,543.6 1518.9,543.1 1519.5,542.3 1520.0,544.3 1520.6,542.7 1521.1,542.0 1521.7,542.7 1522.2,542.9 1522.8,541.4 1523.3,541.1 1523.9,543.7 1524.4,540.9 1525.0,543.0 1525.5,541.1 1526.1,539.8 1526.6,539.0 1527.2,537.8 1527.7,541.1 1528.3,540.7 1528.8,538.6 1529.4,537.2 1529.9,537.6 1530.5,538.2 1531.0,539.5 1531.6,536.1 1532.1,534.1 1532.7,536.6 1533.2,535.3 1533.8,534.2 1534.3,532.3 1534.9,535.7 1535.4,536.7 1536.0,532.8 1536.5,531.9 1537.1,533.3 1537.6,533.6 1538.2,534.9 1538.7,534.3 1539.3,531.8 1539.8,535.0 1540.4,535.3 1540.9,534.3 1541.5,535.9 1542.0,533.8 1542.6,535.7 1543.1,534.5 1543.7,537.0 1544.2,538.6 1544.8,534.9 1545.3,538.3 1545.9,539.8 1546.4,539.5 1547.0,541.9 1547.5,539.7 1548.1,543.5 1548.6,540.6 1549.2,538.9 1549.7,540.8 1550.3,540.2 1550.8,543.3 1551.4,544.1 1551.9,544.4 1552.5,543.2 1553.0,541.9 1553.6,541.4 1554.1,540.6 1554.7,543.4 1555.2,540.6 1555.8,542.2 1556.3,542.9 1556.9,543.3 1557.4,540.6 1558.0,540.8 1558.5,540.9 1559.1,544.0 1559.6,541.0 1560.2,541.4 1560.7,543.6 1561.3,544.1 1561.8,545.5 1562.4,542.6 1562.9,544.1 1563.5,539.9 1564.0,543.5 1564.6,543.9 1565.1,544.0 1565.7,541.8 1566.2,544.7 1566.8,544.9 1567.3,542.5 1567.9,542.5 1568.4,541.9 1569.0,541.9 1569.5,542.3 1570.1,540.3 1570.6,540.2 1571.2,541.8 1571.7,541.4 1572.3,543.6 1572.8,541.8 1573.4,540.6 1573.9,539.3 1574.5,541.5 1575.0,540.3 1575.6,539.2 1576.1,544.8 1576.7,538.9 1577.2,544.3 1577.8,546.4 1578.3,541.9 1578.9,541.0 1579.4,542.7 1580.0,540.3 1580.5,541.9 1581.1,542.7 1581.6,539.6 1582.2,543.9 1582.7,541.6 1583.3,541.9 1583.8,543.4 1584.4,539.2 1584.9,539.4 1585.5,541.7 1586.0,541.8 1586.6,540.9 1587.1,541.0 1587.7,540.8 1588.2,539.6 1588.8,539.1 1589.3,539.9 1589.9,541.2 1590.4,541.6 1591.0,539.0 1591.5,543.5 1592.1,544.4 1592.6,541.1 1593.2,539.5 1593.7,540.4 1594.3,541.9 1594.8,540.5 1595.4,543.4 1595.9,540.1 1596.5,541.9 1597.0,541.2 1597.6,543.8 1598.1,541.0 1598.7,541.1 1599.2,539.0 1599.8,539.9 1600.3,538.2 1600.9,545.1 1601.4,540.2 1602.0,539.8 1602.5,540.1 1603.1,540.6 1603.6,540.8 1604.2,537.2 1604.7,541.8 1605.3,539.9 1605.8,539.7 1606.4,542.5 1606.9,540.1 1607.5,538.4 1608.0,538.3 1608.6,540.7 1609.1,539.6 1609.7,539.7 1610.2,537.5 1610.8,539.6 1611.3,538.3 1611.9,538.0 1612.4,541.2 1613.0,539.6 1613.5,538.7 1614.1,540.6 1614.6,541.9 1615.2,536.7 1615.7,540.4 1616.3,539.3 1616.8,538.7 1617.4,540.9 1617.9,540.0 1618.5,538.0 1619.0,540.6 1619.6,538.3 1620.1,538.5 1620.7,536.5 1621.2,538.5 1621.8,539.3 1622.3,537.9 1622.9,538.4 1623.4,540.2 1624.0,538.0 1624.5,537.2 1625.1,540.7 1625.6,537.0 1626.2,534.4 1626.7,536.0 1627.3,537.5 1627.8,536.0 1628.4,536.1 1628.9,537.0 1629.5,537.4 1630.0,537.3 1630.6,537.6 1631.1,539.2 1631.7,542.5 1632.2,539.3 1632.8,538.5 1633.3,536.4 1633.9,537.5 1634.4,535.7 1635.0,537.2 1635.5,535.5 1636.1,538.8 1636.6,540.3 1637.2,538.5 1637.7,541.1 1638.3,535.3 1638.8,538.3 1639.4,536.7 1639.9,537.1 1640.5,535.2 1641.0,536.7 1641.6,536.7 1642.1,535.8 1642.7,538.6 1643.2,538.0 1643.8,538.7 1644.3,536.0 1644.9,535.9 1645.4,535.1 1646.0,538.1 1646.5,538.3 1647.1,536.8 1647.6,535.8 1648.2,537.0 1648.7,537.6 1649.3,537.7 1649.8,536.5 1650.4,538.6 1650.9,538.9 1651.5,535.6 1652.0,537.4 1652.6,537.0 1653.1,535.0 1653.7,536.1 1654.2,537.3 1654.8,538.8 1655.3,535.9 1655.9,536.4 1656.4,536.6 1657.0,536.3 1657.5,534.8 1658.1,538.2 1658.6,536.6 1659.2,537.7 1659.7,538.0 1660.3,536.3 1660.8,535.5 1661.4,535.9 1661.9,537.0 1662.5,537.0 1663.0,537.0"/>
<polyline stroke="#00ff00" points="183.5,726.0 184.1,726.0 184.6,726.1 185.2,724.7 185.7,726.7 186.3,724.9 186.8,726.2 187.4,726.1 187.9,725.5 188.5,728.5 189.0,725.8 189.6,726.6 190.1,727.2 190.7,725.3 191.2,727.4 191.8,726.3 192.3,727.2 192.9,725.7 193.4,725.6 194.0,727.4 194.5,726.9 195.1,726.6 195.6,727.0 196.2,727.0 196.7,725.6 197.3,724.8 197.8,725.3 198.4,725.2 198.9,724.9 199.5,726.2 200.0,726.3 200.6,726.7 201.1,726.9 201.7,726.5 202.2,726.6 202.8,726.9 203.3,726.0 203.9,726.3 204.4,726.9 205.0,726.4 205.5,726.5 206.1,726.9 206.6,728.0 207.2,727.3 207.7,726.8 208.3,726.6 208.8,727.0 209.4,728.9 209.9,724.6 210.5,727.6 211.0,727.4 211.6,727.9 212.1,726.3 212.7,728.9 213.2,728.1 213.8,727.2 214.3,727.4 214.9,726.8 215.4,727.4 216.0,727.3 216.5,728.2 217.1,727.7 217.6,727.4 218.2,728.0 218.7,727.9 219.3,727.7 219.8,726.3 220.4,728.4 220.9,726.6 221.5,726.8 222.0,727.5 222.6,728.1 223.1,728.8 223.7,726.3 224.2,728.9 224.8,729.1 225.3,727.4 225.9,727.6 226.4,727.4 227.0,727.4 227.5,726.8 228.1,726.5 228.6,727.7 229.2,728.1 229.7,729.4 230.3,727.2 230.8,726.3 231.4,728.1 231.9,727.7 232.5,728.4 233.0,727.8 233.6,727.1 234.1,727.6 234.7,728.8 235.2,728.4 235.8,727.4 236.3,728.9 236.9,727.1 237.4,727.8 238.0,728.5 238.5,727.2 239.1,727.4 239.6,728.4 240.2,728.3 240.7,728.2 241.3,728.0 241.8,727.6 242.4,727.9 242.9,730.9 243.5,728.0 244.0,729.8 244.6,728.1 245.1,729.7 245.7,729.6 246.2,729.0 246.8,728.2 247.3,727.6 247.9,729.5 248.4,727.7 249.0,727.7 249.5,730.0 250.1,730.0 250.6,728.9 251.2,728.7 251.7,728.3 252.3,729.2 252.8,728.5 253.4,727.7 253.9,728.4 254.5,729.2 255.0,727.7 255.6,728.3 256.1,729.2 256.7,730.4 257.2,729.2 257.8,729.2 258.3,730.7 258.9,728.3 259.4,728.6 260.0,729.9 260.5,730.1 261.1,729.6 261.6,727.2 262.2,729.9 262.7,729.9 263.3,729.4 263.8,729.9 264.4,730.5 264.9,729.5 265.5,728.7 266.0,728.0 266.6,729.5 267.1,728.9 267.7,729.1 268.2,728.7 268.8,729.8 269.3,730.2 269.9,730.0 270.4,728.8 271.0,730.4 271.5,730.0 272.1,727.7 272.6,730.2 273.2,728.1 273.7,728.9 274.3,730.7 274.8,730.4 275.4,729.4 275.9,729.2 276.5,730.2 277.0,728.5 277.6,730.3 278.1,729.7 278.7,730.6 279.2,729.9 279.8,729.2 280.3,730.2 280.9,729.8 281.4,729.0 282.0,729.2 282.5,729.4 283.1,730.2 283.6,730.8 284.2,730.2 284.7,729.3 285.3,730.0 285.8,730.8 286.4,731.2 286.9,729.6 287.5,730.6 288.0,730.1 288.6,728.7 289.1,729.4 289.7,730.0 290.2,730.1 290.8,730.2 291.3,730.0 291.9,730.8 292.4,729.7 293.0,729.2 293.5,730.9 294.1,730.0 294.6,731.1 295.2,729.8 295.7,731.6 296.3,729.5 296.8,729.6 297.4,731.1 297.9,732.0 298.5,729.9 299.0,731.8 299.6,731.8 300.1,731.2 300.7,730.4 301.2,728.8 301.8,729.3 302.3,729.9 302.9,731.0 303.4,730.4 304.0,730.0 304.5,730.7 305.1,729.3 305.6,730.9 306.2,729.8 306.7,731.6 307.3,730.7 307.8,730.0 308.4,730.2 308.9,729.3 309.5,730.8 310.0,729.8 310.6,730.5 311.1,731.5 311.7,730.9 312.2,731.0 312.8,732.8 313.3,731.2 313.9,731.5 314.4,730.4 315.0,729.7 315.5,730.8 316.1,729.7 316.6,728.3 317.2,731.1 317.7,730.9 318.3,729.8 318.8,731.7 319.4,730.6 319.9,730.3 320.5,729.9 321.0,731.6 321.6,730.3 322.1,730.3 322.7,730.3 323.2,730.1 323.8,729.4 324.3,730.1 324.9,730.0 325.4,731.3 326.0,729.7 326.5,731.3 327.1,730.3 327.6,730.1 328.2,730.6 328.7,730.8 329.3,730.8 329.8,731.2 330.4,730.9 330.9,729.5 331.5,730.2 332.0,732.1 332.6,730.7 333.1,728.9 333.7,730.9 334.2,732.2 334.8,731.7 335.3,730.8 335.9,731.0 336.4,731.3 337.0,730.7 337.5,730.4 338.1,732.1 338.6,730.5 339.2,731.6 339.7,729.6 340.3,730.2 340.8,729.9 341.4,731.2 341.9,730.3 342.5,730.3 343.0,730.1 343.6,731.0 344.1,731.6 344.7,730.4 345.2,731.4 345.8,730.9 346.3,730.4 346.9,731.2 347.4,732.0 348.0,728.8 348.5,731.5 349.1,732.3 349.6,730.8 350.2,731.5 350.7,731.7 351.3,731.3 351.8,731.1 352.4,732.0 352.9,731.8 353.5,731.1 354.0,731.5 354.6,730.2 355.1,730.8 355.7,731.1 356.2,730.9 356.8,730.4 357.3,732.0 357.9,731.2 358.4,731.6 359.0,729.9 359.5,730.6 360.1,730.4 360.6,730.8 361.2,732.3 361.7,733.0 362.3,731.2 362.8,731.3 363.4,730.8 363.9,730.6 364.5,731.7 365.0,730.7 365.6,730.2 366.1,731.5 366.7,730.9 367.2,731.3 367.8,731.3 368.3,731.8 368.9,731.5 369.4,731.8 370.0,731.0 370.5,731.0 371.1,731.4 371.6,731.3 372.2,731.5 372.7,731.4 373.3,732.8 373.8,730.9 374.4,731.5 374.9,731.2 375.5,732.2 376.0,730.5 376.6,730.1 377.1,732.1 377.7,731.7 378.2,731.3 378.8,730.5 379.3,732.1 379.9,731.5 380.4,730.7 381.0,730.8 381.5,730.6 382.1,732.3 382.6,731.0 383.2,730.3 383.7,730.7 384.3,732.0 384.8,731.6 385.4,730.6 385.9,730.2 386.5,730.7 387.0,731.4 387.6,730.8 388.1,730.7 388.7,731.2 389.2,730.7 389.8,730.3 390.3,730.1 390.9,730.4 391.4,730.6 392.0,731.4 392.5,731.3 393.1,730.5 393.6,732.1 394.2,730.2 394.7,732.0 395.3,730.3 395.8,731.0 396.4,731.9 396.9,731.9 397.5,730.6 398.0,731.3 398.6,730.3 399.1,731.1 399.7,731.6 400.2,730.8 400.8,732.4 401.3,731.7 401.9,731.8 402.4,730.8 403.0,731.1 403.5,731.5 404.1,731.9 404.6,731.8 405.2,730.9 405.7,730.6 406.3,730.3 406.8,733.0 407.4,732.2 407.9,732.4 408.5,731.1 409.0,732.9 409.6,731.7 410.1,731.4 410.7,730.8 411.2,730.1 411.8,731.8 412.3,731.3 412.9,731.2 413.4,730.2 414.0,729.6 414.5,730.4 415.1,732.0 415.6,732.8 416.2,730.7 416.7,731.0 417.3,730.0 417.8,730.4 418.4,731.5 418.9,730.6 419.5,731.3 420.0,732.2 420.6,731.1 421.1,730.3 421.7,732.6 422.2,731.7 422.8,731.4 423.3,731.5 423.9,731.1 424.4,731.8 425.0,730.1 425.5,731.2 426.1,730.3 426.6,731.2 427.2,731.7 427.7,731.1 428.3,732.6 428.8,731.2 429.4,730.7 429.9,731.5 430.5,731.4 431.0,731.5 431.6,731.3 432.1,731.2 432.7,732.0 433.2,729.9 433.8,731.8 434.3,730.8 434.9,731.1 435.4,730.5 436.0,732.2 436.5,729.6 437.1,730.2 437.6,730.9 438.2,731.8 438.7,730.2 439.3,731.6 439.8,732.1 440.4,730.5 440.9,729.2 441.5,731.8 442.0,731.1 442.6,731.1 443.1,732.1 443.7,731.8 444.2,730.8 444.8,731.3 445.3,730.5 445.9,731.6 446.4,731.2 447.0,731.6 447.5,730.7 448.1,731.4 448.6,731.5 449.2,731.7 449.7,731.3 450.3,729.6 450.8,731.6 451.4,730.3 451.9,732.0 452.5,731.2 453.0,731.2 453.6,730.7 454.1,732.6 454.7,730.6 455.2,732.3 455.8,732.5 456.3,733.7 456.9,732.3 457.4,731.1 458.0,730.5 458.5,730.6 459.1,730.0 459.6,732.3 460.2,731.5 460.7,730.3 461.3,731.8 461.8,731.3 462.4,732.1 462.9,731.5 463.5,730.4 464.0,731.4 464.6,732.0 465.1,731.3 465.7,731.3 466.2,730.2 466.8,730.7 467.3,731.3 467.9,731.9 468.4,730.8 469.0,730.9 469.5,732.9 470.1,730.4 470.6,731.0 471.2,730.4 471.7,731.2 472.3,731.9 472.8,731.9 473.4,731.5 473.9,732.2 474.5,731.2 475.0,731.7 475.6,730.4 476.1,732.0 476.7,730.7 477.2,732.2 477.8,730.3 478.3,731.4 478.9,731.4 479.4,731.4 480.0,731.0 480.5,732.4 481.1,731.5 481.6,730.2 482.2,730.7 482.7,732.2 483.3,730.4 483.8,732.6 484.4,730.9 484.9,729.7 485.5,731.9 486.0,730.4 486.6,728.2 487.1,731.1 487.7,730.1 488.2,731.3 488.8,731.7 489.3,731.8 489.9,730.9 490.4,729.8 491.0,732.1 491.5,731.2 492.1,731.1 492.6,729.9 493.2,730.5 493.7,731.2 494.3,730.9 494.8,731.2 495.4,730.3 495.9,729.7 496.5,731.3 497.0,730.9 497.6,731.9 498.1,732.1 498.7,730.9 499.2,730.8 499.8,732.1 500.3,731.8 500.9,730.3 501.4,732.5 502.0,731.3 502.5,730.9 503.1,730.0 503.6,730.7 504.2,731.5 504.7,731.3 505.3,732.2 505.8,731.8 506.4,730.2 506.9,730.9 507.5,730.7 508.0,730.4 508.6,730.4 509.1,730.2 509.7,730.2 510.2,730.9 510.8,731.3 511.3,732.0 511.9,730.3 512.4,730.5 513.0,728.4 513.5,730.8 514.1,731.1 514.6,730.5 515.2,731.0 515.7,730.3 516.3,730.3 516.8,729.8 517.4,730.0 517.9,729.4 518.5,731.8 519.0,731.5 519.6,730.9 520.1,730.8 520.7,732.1 521.2,731.3 521.8,730.3 522.3,730.9 522.9,731.1 523.4,731.1 524.0,731.1 524.5,729.5 525.1,730.2 525.6,729.2 526.2,731.0 526.7,730.4 527.3,729.7 527.8,732.5 528.4,731.8 528.9,730.3 529.5,731.4 530.0,730.2 530.6,731.5 531.1,731.3 531.7,730.3 532.2,731.1 532.8,732.1 533.3,731.4 533.9,729.7 534.4,730.9 535.0,731.2 535.5,730.8 536.1,731.5 536.6,730.0 537.2,728.7 537.7,731.7 538.3,729.6 538.8,730.4 539.4,729.2 539.9,731.1 540.5,729.5 541.0,730.5 541.6,730.3 542.1,731.5 542.7,731.8 543.2,730.8 543.8,731.0 544.3,730.3 544.9,730.2 545.4,729.3 546.0,730.4 546.5,728.3 547.1,730.5 547.6,729.8 548.2,729.6 548.7,730.5 549.3,728.0 549.8,728.6 550.4,729.7 550.9,728.9 551.5,729.4 552.0,728.6 552.6,727.6 553.1,728.7 553.7,728.1 554.2,728.0 554.8,727.5 555.3,728.1 555.9,725.0 556.4,724.4 557.0,724.9 557.5,721.7 558.1,720.9 558.6,719.8 559.2,716.9 559.7,714.2 560.3,710.6 560.8,705.4 561.4,703.2 561.9,698.5 562.5,692.8 563.0,686.1 563.6,680.0 564.1,673.4 564.7,664.9 565.2,656.8 565.8,648.1 566.3,640.9 566.9,631.1 567.4,623.4 568.0,616.8 568.5,606.6 569.1,600.9 569.6,596.4 570.2,590.7 570.7,588.4 571.3,584.4 571.8,584.0 572.4,586.5 572.9,587.1 573.5,591.7 574.0,596.4 574.6,603.7 575.1,608.7 575.7,617.2 576.2,625.9 576.8,634.6 577.3,642.2 577.9,651.1 578.4,658.2 579.0,668.2 579.5,674.5 580.1,681.8 580.6,689.0 581.2,693.7 581.7,698.8 582.3,704.1 582.8,708.7 583.4,710.1 583.9,713.0 584.5,717.5 585.0,719.1 585.6,721.2 586.1,724.3 586.7,723.8 587.2,725.0 587.8,726.9 588.3,725.9 588.9,727.3 589.4,727.5 590.0,728.1 590.5,728.5 591.1,727.6 591.6,728.4 592.2,728.4 592.7,728.0 593.3,729.5 593.8,728.8 594.4,728.4 594.9,728.2 595.5,729.1 596.0,728.6 596.6,730.0 597.1,730.5 597.7,729.4 598.2,729.2 598.8,729.5 599.3,730.5 599.9,729.4 600.4,730.4 601.0,729.5 601.5,728.1 602.1,731.4 602.6,730.8 603.2,730.0 603.7,730.3 604.3,730.4 604.8,731.6 605.4,730.0 605.9,730.5 606.5,730.1 607.0,729.9 607.6,730.7 608.1,730.8 608.7,730.0 609.2,732.4 609.8,728.2 610.3,731.6 610.9,729.5 611.4,729.9 612.0,731.0 612.5,731.3 613.1,731.6 613.6,729.4 614.2,732.2 614.7,729.8 615.3,730.9 615.8,731.7 616.4,730.7 616.9,730.6 617.5,731.3 618.0,730.7 618.6,729.7 619.1,731.6 619.7,731.6 620.2,731.2 620.8,731.0 621.3,731.6 621.9,731.5 622.4,731.7 623.0,731.1 623.5,729.2 624.1,731.3 624.6,731.3 625.2,731.5 625.7,731.9 626.3,729.6 626.8,728.3 627.4,731.5 627.9,731.3 628.5,730.7 629.0,729.7 629.6,732.1 630.1,730.4 630.7,732.4 631.2,730.9 631.8,731.5 632.3,728.5 632.9,731.1 633.4,730.0 634.0,729.5 634.5,730.3 635.1,732.8 635.6,730.0 636.2,729.0 636.7,731.4 637.3,729.7 637.8,730.3 638.4,731.7 638.9,731.2 639.5,730.9 640.0,731.2 640.6,730.2 641.1,729.2 641.7,730.1 642.2,729.8 642.8,730.1 643.3,730.0 643.9,730.4 644.4,730.7 645.0,729.4 645.5,729.6 646.1,730.0 646.6,730.6 647.2,729.2 647.7,727.7 648.3,729.9 648.8,727.8 649.4,728.2 649.9,727.8 650.5,728.2 651.0,725.7 651.6,727.5 652.1,725.3 652.7,725.6 653.2,723.3 653.8,724.5 654.3,720.6 654.9,718.4 655.4,715.9 656.0,712.0 656.5,712.6 657.1,707.0 657.6,704.9 658.2,701.7 658.7,697.7 659.3,692.8 659.8,687.8 660.4,684.2 660.9,679.0 661.5,673.0 662.0,668.9 662.6,665.8 663.1,661.8 663.7,655.2 664.2,654.2 664.8,651.0 665.3,649.8 665.9,647.8 666.4,647.0 667.0,648.2 667.5,649.4 668.1,651.3 668.6,652.9 669.2,656.4 669.7,661.1 670.3,663.6 670.8,667.5 671.4,673.1 671.9,676.6 672.5,682.9 673.0,686.1 673.6,691.0 674.1,696.5 674.7,698.9 675.2,703.2 675.8,707.4 676.3,710.5 676.9,711.9 677.4,716.4 678.0,717.8 678.5,720.0 679.1,722.2 679.6,723.8 680.2,724.6 680.7,726.1 681.3,726.5 681.8,726.0 682.4,726.5 682.9,727.4 683.5,727.7 684.0,728.5 684.6,727.2 685.1,729.4 685.7,730.0 686.2,730.2 686.8,729.7 687.3,728.9 687.9,731.7 688.4,729.4 689.0,729.7 689.5,730.2 690.1,728.9 690.6,729.1 691.2,730.3 691.7,731.2 692.3,730.0 692.8,730.7 693.4,730.8 693.9,730.6 694.5,729.7 695.0,731.3 695.6,730.3 696.1,729.7 696.7,729.7 697.2,731.4 697.8,730.7 698.3,730.1 698.9,731.5 699.4,731.3 700.0,730.7 700.5,729.7 701.1,730.6 701.6,730.9 702.2,729.9 702.7,732.8 703.3,730.7 703.8,729.9 704.4,729.5 704.9,731.7 705.5,730.7 706.0,730.8 706.6,730.2 707.1,731.4 707.7,731.1 708.2,729.9 708.8,730.4 709.3,729.8 709.9,731.2 710.4,730.8 711.0,731.6 711.5,731.3 712.1,731.5 712.6,729.4 713.2,730.2 713.7,729.9 714.3,729.6 714.8,730.1 715.4,731.6 715.9,731.4 716.5,731.9 717.0,731.2 717.6,731.1 718.1,730.3 718.7,730.3 719.2,730.2 719.8,729.7 720.3,729.2 720.9,730.2 721.4,731.0 722.0,728.9 722.5,728.6 723.1,730.2 723.6,729.0 724.2,727.6 724.7,728.5 725.3,726.5 725.8,728.4 726.4,727.6 726.9,726.7 727.5,727.6 728.0,726.9 728.6,728.3 729.1,726.5 729.7,727.4 730.2,726.2 730.8,727.4 731.3,727.7 731.9,728.0 732.4,728.3 733.0,726.7 733.5,729.4 734.1,729.5 734.6,728.4 735.2,728.9 735.7,729.7 736.3,727.8 736.8,729.2 737.4,730.0 737.9,730.2 738.5,730.4 739.0,729.2 739.6,731.1 740.1,731.2 740.7,730.9 741.2,730.1 741.8,729.8 742.3,730.6 742.9,731.1 743.4,729.9 744.0,730.5 744.5,731.3 745.1,731.3 745.6,730.2 746.2,729.3 746.7,730.7 747.3,729.5 747.8,729.7 748.4,731.5 748.9,731.2 749.5,730.0 750.0,730.8 750.6,730.9 751.1,731.3 751.7,731.9 752.2,731.3 752.8,729.1 753.3,731.3 753.9,730.7 754.4,730.9 755.0,731.0 755.5,730.8 756.1,730.7 756.6,731.8 757.2,731.9 757.7,732.2 758.3,731.8 758.8,731.7 759.4,731.4 759.9,730.1 760.5,731.9 761.0,730.8 761.6,731.0 762.1,729.9 762.7,730.6 763.2,733.6 763.8,730.8 764.3,731.7 764.9,732.0 765.4,731.5 766.0,730.7 766.5,731.0 767.1,731.5 767.6,730.8 768.2,730.1 768.7,730.3 769.3,732.4 769.8,731.7 770.4,731.7 770.9,731.9 771.5,731.3 772.0,730.3 772.6,732.9 773.1,730.9 773.7,731.4 774.2,731.3 774.8,732.2 775.3,731.0 775.9,730.0 776.4,729.9 777.0,730.4 777.5,731.8 778.1,732.2 778.6,731.0 779.2,730.8 779.7,731.7 780.3,731.3 780.8,730.6 781.4,730.3 781.9,731.3 782.5,732.0 783.0,732.1 783.6,731.8 784.1,730.7 784.7,732.1 785.2,729.5 785.8,731.3 786.3,731.8 786.9,730.4 787.4,730.1 788.0,732.4 788.5,730.9 789.1,731.0 789.6,732.3 790.2,731.6 790.7,730.3 791.3,731.3 791.8,731.1 792.4,732.1 792.9,732.3 793.5,729.9 794.0,730.6 794.6,732.5 795.1,731.2 795.7,731.2 796.2,730.7 796.8,731.6 797.3,730.7 797.9,731.2 798.4,731.2 799.0,730.7 799.5,730.1 800.1,729.9 800.6,730.6 801.2,730.7 801.7,731.5 802.3,731.2 802.8,731.2 803.4,730.3 803.9,730.7 804.5,730.6 805.0,730.2 805.6,730.1 806.1,732.6 806.7,731.2 807.2,731.9 807.8,731.2 808.3,730.3 808.9,732.2 809.4,731.5 810.0,731.0 810.5,730.2 811.1,731.1 811.6,731.7 812.2,732.0 812.7,731.3 813.3,730.9 813.8,730.8 814.4,731.4 814.9,730.4 815.5,731.1 816.0,729.4 816.6,732.2 817.1,731.8 817.7,730.9 818.2,730.6 818.8,731.6 819.3,730.9 819.9,730.6 820.4,730.7 821.0,730.7 821.5,730.1 822.1,731.8 822.6,729.5 823.2,731.1 823.7,730.9 824.3,729.6 824.8,731.4 825.4,729.4 825.9,730.4 826.5,730.3 827.0,730.7 827.6,730.7 828.1,731.8 828.7,731.0 829.2,730.9 829.8,731.0 830.3,731.2 830.9,730.5 831.4,731.5 832.0,731.2 832.5,731.3 833.1,731.0 833.6,731.0 834.2,731.0 834.7,730.5 835.3,731.2 835.8,731.8 836.4,730.6 836.9,731.0 837.5,731.6 838.0,730.9 838.6,730.8 839.1,731.2 839.7,731.2 840.2,732.3 840.8,731.2 841.3,731.8 841.9,731.0 842.4,731.9 843.0,732.1 843.5,732.1 844.1,730.0 844.6,731.0 845.2,730.1 845.7,731.1 846.3,731.0 846.8,730.2 847.4,730.1 847.9,730.4 848.5,730.9 849.0,731.3 849.6,732.1 850.1,732.5 850.7,730.2 851.2,731.2 851.8,730.8 852.3,730.9 852.9,729.9 853.4,731.4 854.0,731.2 854.5,730.4 855.1,731.1 855.6,730.2 856.2,728.8 856.7,730.3 857.3,730.6 857.8,730.0 858.4,731.0 858.9,732.5 859.5,731.0 860.0,730.8 860.6,729.9 861.1,730.9 861.7,730.9 862.2,731.8 862.8,730.5 863.3,730.3 863.9,730.4 864.4,732.2 865.0,732.0 865.5,730.6 866.1,733.5 866.6,730.2 867.2,730.3 867.7,731.6 868.3,730.7 868.8,730.2 869.4,730.0 869.9,730.9 870.5,730.8 871.0,730.8 871.6,730.0 872.1,731.8 872.7,730.2 873.2,731.5 873.8,732.3 874.3,729.9 874.9,730.5 875.4,730.9 876.0,731.2 876.5,730.8 877.1,730.0 877.6,731.2 878.2,730.7 878.7,731.8 879.3,730.4 879.8,730.0 880.4,730.1 880.9,730.4 881.5,731.1 882.0,731.5 882.6,729.9 883.1,731.2 883.7,729.8 884.2,733.4 884.8,731.1 885.3,730.9 885.9,730.5 886.4,731.6 887.0,732.1 887.5,730.7 888.1,731.0 888.6,731.0 889.2,731.4 889.7,730.3 890.3,731.3 890.8,730.8 891.4,732.3 891.9,730.0 892.5,730.9 893.0,731.3 893.6,731.8 894.1,731.5 894.7,730.8 895.2,731.1 895.8,731.7 896.3,729.8 896.9,731.7 897.4,730.5 898.0,731.8 898.5,732.5 899.1,730.5 899.6,730.7 900.2,731.1 900.7,730.8 901.3,732.0 901.8,731.9 902.4,730.1 902.9,730.0 903.5,730.9 904.0,730.4 904.6,731.6 905.1,732.0 905.7,730.8 906.2,730.0 906.8,730.4 907.3,731.2 907.9,731.0 908.4,730.8 909.0,730.5 909.5,731.6 910.1,730.9 910.6,731.3 911.2,732.0 911.7,729.7 912.3,731.1 912.8,730.6 913.4,730.5 913.9,731.1 914.5,730.2 915.0,730.2 915.6,733.1 916.1,732.3 916.7,731.7 917.2,730.0 917.8,730.4 918.3,730.1 918.9,730.6 919.4,730.9 920.0,731.3 920.5,729.7 921.1,731.6 921.6,730.9 922.2,731.5 922.7,730.6 923.3,731.3 923.8,729.5 924.4,731.2 924.9,730.1 925.5,730.1 926.0,730.7 926.6,730.4 927.1,728.5 927.7,731.7 928.2,730.1 928.8,730.5 929.3,730.4 929.9,730.1 930.4,730.4 931.0,730.6 931.5,730.2 932.1,729.5 932.6,730.0 933.2,731.4 933.7,730.6 934.3,730.2 934.8,731.5 935.4,729.9 935.9,731.8 936.5,730.8 937.0,730.2 937.6,729.6 938.1,729.7 938.7,729.6 939.2,731.2 939.8,731.8 940.3,730.9 940.9,729.9 941.4,730.3 942.0,728.5 942.5,729.2 943.1,729.7 943.6,731.4 944.2,730.1 944.7,730.6 945.3,730.2 945.8,728.9 946.4,729.5 946.9,728.7 947.5,728.0 948.0,729.1 948.6,728.9 949.1,728.8 949.7,728.5 950.2,726.9 950.8,726.2 951.3,726.3 951.9,725.6 952.4,725.9 953.0,724.1 953.5,722.2 954.1,721.8 954.6,720.1 955.2,717.5 955.7,717.1 956.3,712.4 956.8,711.3 957.4,709.3 957.9,705.3 958.5,702.4 959.0,697.0 959.6,694.8 960.1,691.1 960.7,685.9 961.2,682.4 961.8,677.7 962.3,673.5 962.9,669.5 963.4,664.8 964.0,661.4 964.5,656.9 965.1,655.0 965.6,651.1 966.2,647.3 966.7,645.8 967.3,645.7 967.8,645.8 968.4,644.3 968.9,645.6 969.5,646.3 970.0,650.2 970.6,651.8 971.1,654.5 971.7,659.2 972.2,660.0 972.8,666.4 973.3,669.3 973.9,675.0 974.4,678.7 975.0,682.6 975.5,687.7 976.1,691.6 976.6,697.7 977.2,699.4 977.7,704.8 978.3,707.2 978.8,709.2 979.4,710.8 979.9,715.1 980.5,717.0 981.0,717.4 981.6,722.2 982.1,722.1 982.7,723.1 983.2,725.3 983.8,726.0 984.3,726.4 984.9,726.9 985.4,727.7 986.0,726.2 986.5,727.7 987.1,728.2 987.6,731.0 988.2,729.5 988.7,729.1 989.3,729.6 989.8,729.1 990.4,730.1 990.9,729.4 991.5,730.2 992.0,730.2 992.6,729.8 993.1,729.7 993.7,729.4 994.2,729.0 994.8,729.9 995.3,729.8 995.9,729.9 996.4,730.1 997.0,730.5 997.5,730.3 998.1,730.2 998.6,731.3 999.2,731.6 999.7,729.8 1000.3,730.6 1000.8,730.6 1001.4,729.7 1001.9,730.9 1002.5,730.1 1003.0,731.7 1003.6,729.8 1004.1,730.9 1004.7,729.7 1005.2,729.6 1005.8,731.1 1006.3,730.6 1006.9,731.5 1007.4,731.3 1008.0,729.2 1008.5,731.6 1009.1,729.6 1009.6,730.3 1010.2,729.9 1010.7,730.9 1011.3,730.8 1011.8,730.7 1012.4,732.5 1012.9,730.2 1013.5,730.3 1014.0,729.8 1014.6,732.1 1015.1,729.9 1015.7,730.7 1016.2,730.4 1016.8,730.5 1017.3,730.9 1017.9,729.7 1018.4,730.4 1019.0,731.3 1019.5,729.6 1020.1,731.3 1020.6,730.2 1021.2,731.5 1021.7,730.7 1022.3,730.2 1022.8,729.9 1023.4,732.3 1023.9,731.5 1024.5,730.2 1025.0,733.0 1025.6,730.2 1026.1,730.0 1026.7,731.8 1027.2,730.6 1027.8,731.8 1028.3,730.4 1028.9,731.6 1029.4,731.0 1030.0,731.1 1030.5,731.5 1031.1,730.2 1031.6,730.4 1032.2,730.8 1032.7,730.6 1033.3,730.9 1033.8,731.3 1034.4,730.5 1034.9,730.3 1035.5,731.6 1036.0,733.2 1036.6,731.5 1037.1,731.5 1037.7,730.6 1038.2,730.3 1038.8,731.5 1039.3,732.3 1039.9,730.9 1040.4,731.5 1041.0,730.7 1041.5,730.1 1042.1,730.4 1042.6,729.9 1043.2,731.1 1043.7,730.5 1044.3,732.2 1044.8,732.0 1045.4,730.8 1045.9,731.2 1046.5,730.7 1047.0,732.0 1047.6,732.8 1048.1,731.1 1048.7,730.3 1049.2,730.2 1049.8,730.7 1050.3,731.1 1050.9,730.8 1051.4,730.7 1052.0,731.0 1052.5,731.1 1053.1,730.7 1053.6,730.0 1054.2,730.6 1054.7,729.7 1055.3,730.7 1055.8,730.6 1056.4,731.4 1056.9,730.9 1057.5,730.0 1058.0,730.1 1058.6,732.0 1059.1,730.1 1059.7,731.3 1060.2,730.9 1060.8,730.9 1061.3,731.4 1061.9,730.5 1062.4,731.2 1063.0,730.7 1063.5,731.4 1064.1,730.7 1064.6,730.2 1065.2,731.0 1065.7,730.9 1066.3,730.7 1066.8,729.9 1067.4,731.4 1067.9,729.8 1068.5,730.8 1069.0,730.5 1069.6,731.6 1070.1,731.3 1070.7,731.8 1071.2,729.4 1071.8,730.8 1072.3,729.8 1072.9,731.3 1073.4,732.7 1074.0,730.4 1074.5,731.5 1075.1,728.9 1075.6,730.7 1076.2,731.6 1076.7,730.4 1077.3,730.6 1077.8,730.7 1078.4,731.5 1078.9,730.6 1079.5,730.5 1080.0,730.3 1080.6,731.1 1081.1,731.4 1081.7,730.5 1082.2,731.3 1082.8,731.0 1083.3,731.5 1083.9,732.5 1084.4,731.3 1085.0,731.1 1085.5,730.6 1086.1,730.2 1086.6,729.9 1087.2,730.7 1087.7,730.4 1088.3,731.4 1088.8,730.7 1089.4,731.8 1089.9,731.0 1090.5,730.4 1091.0,730.4 1091.6,728.8 1092.1,731.9 1092.7,730.5 1093.2,729.4 1093.8,730.9 1094.3,729.8 1094.9,729.9 1095.4,730.4 1096.0,729.8 1096.5,731.2 1097.1,730.2 1097.6,729.8 1098.2,730.9 1098.7,729.9 1099.3,730.2 1099.8,731.4 1100.4,732.3 1100.9,729.1 1101.5,729.4 1102.0,730.0 1102.6,731.2 1103.1,730.1 1103.7,731.0 1104.2,729.7 1104.8,730.7 1105.3,729.8 1105.9,729.1 1106.4,729.8 1107.0,730.9 1107.5,730.5 1108.1,731.0 1108.6,730.5 1109.2,729.3 1109.7,730.4 1110.3,730.6 1110.8,731.5 1111.4,731.3 1111.9,730.7 1112.5,730.1 1113.0,731.3 1113.6,729.2 1114.1,729.6 1114.7,729.4 1115.2,730.2 1115.8,731.1 1116.3,729.5 1116.9,732.1 1117.4,729.6 1118.0,731.8 1118.5,729.8 1119.1,730.7 1119.6,729.3 1120.2,730.1 1120.7,729.7 1121.3,731.2 1121.8,729.3 1122.4,730.7 1122.9,731.6 1123.5,730.0 1124.0,729.7 1124.6,730.4 1125.1,727.8 1125.7,729.9 1126.2,730.1 1126.8,729.7 1127.3,728.7 1127.9,729.8 1128.4,730.1 1129.0,730.1 1129.5,729.0 1130.1,729.1 1130.6,728.7 1131.2,727.9 1131.7,728.1 1132.3,727.7 1132.8,728.1 1133.4,728.0 1133.9,729.4 1134.5,727.7 1135.0,726.9 1135.6,725.4 1136.1,726.5 1136.7,725.5 1137.2,723.1 1137.8,721.6 1138.3,720.6 1138.9,719.1 1139.4,716.3 1140.0,715.5 1140.5,713.2 1141.1,711.8 1141.6,708.7 1142.2,705.5 1142.7,703.5 1143.3,699.8 1143.8,695.8 1144.4,691.6 1144.9,687.4 1145.5,684.7 1146.0,680.3 1146.6,675.6 1147.1,671.8 1147.7,666.2 1148.2,664.0 1148.8,659.4 1149.3,656.4 1149.9,651.0 1150.4,648.8 1151.0,645.3 1151.5,644.4 1152.1,643.6 1152.6,640.3 1153.2,639.9 1153.7,640.7 1154.3,639.2 1154.8,641.2 1155.4,642.5 1155.9,645.1 1156.5,646.8 1157.0,649.7 1157.6,653.3 1158.1,658.2 1158.7,662.1 1159.2,666.7 1159.8,670.7 1160.3,675.3 1160.9,679.1 1161.4,683.1 1162.0,687.5 1162.5,690.8 1163.1,695.0 1163.6,698.5 1164.2,704.4 1164.7,703.9 1165.3,708.6 1165.8,711.1 1166.4,713.2 1166.9,715.1 1167.5,716.7 1168.0,717.7 1168.6,720.1 1169.1,721.6 1169.7,722.1 1170.2,724.4 1170.8,723.7 1171.3,726.4 1171.9,728.0 1172.4,726.5 1173.0,727.3 1173.5,729.3 1174.1,726.4 1174.6,727.8 1175.2,727.6 1175.7,728.3 1176.3,729.9 1176.8,730.0 1177.4,728.9 1177.9,730.3 1178.5,728.3 1179.0,729.1 1179.6,730.7 1180.1,731.4 1180.7,730.7 1181.2,730.5 1181.8,729.8 1182.3,730.8 1182.9,729.8 1183.4,731.1 1184.0,730.0 1184.5,730.5 1185.1,728.7 1185.6,729.8 1186.2,730.5 1186.7,728.9 1187.3,730.3 1187.8,730.5 1188.4,729.8 1188.9,729.5 1189.5,729.7 1190.0,728.3 1190.6,729.4 1191.1,731.6 1191.7,729.1 1192.2,729.8 1192.8,728.6 1193.3,731.6 1193.9,729.4 1194.4,729.7 1195.0,730.1 1195.5,729.3 1196.1,731.6 1196.6,729.7 1197.2,728.9 1197.7,727.1 1198.3,728.6 1198.8,727.3 1199.4,728.2 1199.9,726.7 1200.5,725.5 1201.0,726.3 1201.6,725.0 1202.1,723.9 1202.7,722.8 1203.2,722.0 1203.8,720.6 1204.3,720.6 1204.9,717.8 1205.4,717.7 1206.0,715.9 1206.5,716.0 1207.1,714.3 1207.6,713.9 1208.2,711.1 1208.7,709.5 1209.3,710.9 1209.8,709.4 1210.4,708.0 1210.9,709.2 1211.5,709.6 1212.0,708.4 1212.6,709.1 1213.1,708.7 1213.7,709.6 1214.2,711.1 1214.8,711.9 1215.3,712.8 1215.9,713.6 1216.4,715.9 1217.0,716.8 1217.5,719.5 1218.1,718.4 1218.6,719.5 1219.2,721.2 1219.7,721.5 1220.3,722.3 1220.8,723.3 1221.4,724.6 1221.9,725.5 1222.5,725.9 1223.0,727.5 1223.6,728.3 1224.1,728.6 1224.7,728.6 1225.2,728.2 1225.8,728.8 1226.3,728.2 1226.9,730.4 1227.4,730.7 1228.0,731.1 1228.5,729.2 1229.1,731.7 1229.6,730.5 1230.2,730.7 1230.7,731.6 1231.3,730.7 1231.8,730.1 1232.4,730.8 1232.9,730.1 1233.5,730.3 1234.0,731.4 1234.6,729.5 1235.1,729.3 1235.7,731.1 1236.2,730.8 1236.8,730.7 1237.3,731.2 1237.9,730.1 1238.4,731.5 1239.0,730.1 1239.5,730.1 1240.1,731.6 1240.6,730.7 1241.2,730.7 1241.7,730.1 1242.3,731.7 1242.8,731.6 1243.4,730.1 1243.9,731.0 1244.5,731.0 1245.0,730.7 1245.6,729.5 1246.1,731.7 1246.7,731.3 1247.2,729.5 1247.8,730.1 1248.3,732.3 1248.9,731.4 1249.4,729.7 1250.0,730.5 1250.5,730.7 1251.1,730.5 1251.6,730.5 1252.2,730.3 1252.7,730.6 1253.3,731.5 1253.8,729.9 1254.4,731.9 1254.9,731.2 1255.5,730.8 1256.0,732.1 1256.6,731.7 1257.1,731.2 1257.7,731.4 1258.2,730.9 1258.8,731.4 1259.3,731.9 1259.9,731.7 1260.4,730.3 1261.0,730.6 1261.5,731.2 1262.1,730.6 1262.6,730.3 1263.2,732.3 1263.7,730.3 1264.3,731.1 1264.8,730.2 1265.4,731.2 1265.9,731.7 1266.5,730.7 1267.0,730.8 1267.6,731.2 1268.1,730.9 1268.7,730.6 1269.2,731.3 1269.8,731.2 1270.3,730.5 1270.9,731.6 1271.4,729.8 1272.0,730.1 1272.5,731.6 1273.1,731.9 1273.6,730.7 1274.2,729.7 1274.7,730.4 1275.3,731.3 1275.8,731.5 1276.4,731.3 1276.9,731.5 1277.5,729.8 1278.0,730.4 1278.6,730.4 1279.1,730.7 1279.7,732.1 1280.2,731.4 1280.8,730.3 1281.3,730.7 1281.9,728.9 1282.4,731.5 1283.0,730.4 1283.5,731.1 1284.1,731.2 1284.6,729.5 1285.2,731.3 1285.7,730.5 1286.3,730.6 1286.8,730.0 1287.4,730.8 1287.9,731.5 1288.5,731.7 1289.0,731.2 1289.6,731.1 1290.1,732.0 1290.7,730.8 1291.2,731.2 1291.8,732.6 1292.3,729.8 1292.9,730.0 1293.4,730.2 1294.0,730.7 1294.5,730.7 1295.1,731.1 1295.6,732.4 1296.2,732.0 1296.7,730.5 1297.3,731.6 1297.8,731.2 1298.4,730.8 1298.9,731.8 1299.5,732.2 1300.0,730.2 1300.6,731.9 1301.1,730.3 1301.7,730.7 1302.2,731.2 1302.8,730.4 1303.3,730.8 1303.9,731.0 1304.4,731.3 1305.0,730.7 1305.5,730.8 1306.1,730.3 1306.6,731.2 1307.2,731.4 1307.7,730.1 1308.3,731.3 1308.8,732.2 1309.4,731.3 1309.9,731.7 1310.5,731.3 1311.0,730.8 1311.6,730.5 1312.1,730.6 1312.7,730.7 1313.2,729.7 1313.8,730.0 1314.3,731.9 1314.9,729.7 1315.4,729.9 1316.0,729.8 1316.5,730.9 1317.1,730.6 1317.6,731.2 1318.2,729.9 1318.7,731.7 1319.3,730.5 1319.8,730.1 1320.4,731.6 1320.9,731.6 1321.5,731.7 1322.0,729.5 1322.6,730.6 1323.1,730.9 1323.7,730.5 1324.2,729.3 1324.8,731.3 1325.3,731.1 1325.9,730.9 1326.4,730.0 1327.0,730.2 1327.5,731.3 1328.1,730.4 1328.6,730.8 1329.2,730.9 1329.7,730.7 1330.3,731.5 1330.8,730.7 1331.4,731.7 1331.9,732.3 1332.5,731.1 1333.0,729.9 1333.6,730.5 1334.1,731.5 1334.7,731.7 1335.2,730.1 1335.8,730.8 1336.3,730.7 1336.9,730.1 1337.4,731.1 1338.0,730.8 1338.5,732.1 1339.1,730.2 1339.6,731.6 1340.2,730.9 1340.7,731.4 1341.3,730.6 1341.8,730.5 1342.4,731.8 1342.9,731.9 1343.5,730.6 1344.0,731.6 1344.6,730.7 1345.1,731.0 1345.7,732.5 1346.2,731.8 1346.8,731.3 1347.3,731.6 1347.9,730.8 1348.4,731.0 1349.0,731.5 1349.5,730.3 1350.1,730.8 1350.6,732.3 1351.2,730.8 1351.7,731.0 1352.3,732.0 1352.8,732.3 1353.4,730.9 1353.9,731.8 1354.5,730.2 1355.0,730.1 1355.6,730.9 1356.1,732.3 1356.7,730.6 1357.2,731.3 1357.8,731.4 1358.3,729.8 1358.9,730.5 1359.4,731.9 1360.0,731.7 1360.5,731.0 1361.1,729.3 1361.6,731.3 1362.2,731.7 1362.7,729.8 1363.3,731.3 1363.8,730.6 1364.4,729.9 1364.9,731.9 1365.5,732.3 1366.0,730.5 1366.6,731.7 1367.1,730.9 1367.7,730.9 1368.2,730.5 1368.8,730.6 1369.3,730.5 1369.9,731.5 1370.4,730.6 1371.0,731.7 1371.5,730.8 1372.1,730.4 1372.6,731.1 1373.2,732.3 1373.7,731.6 1374.3,732.2 1374.8,729.6 1375.4,730.4 1375.9,730.2 1376.5,731.0 1377.0,731.0 1377.6,729.6 1378.1,730.5 1378.7,731.1 1379.2,731.7 1379.8,729.3 1380.3,732.3 1380.9,730.6 1381.4,731.6 1382.0,730.0 1382.5,731.1 1383.1,731.8 1383.6,731.9 1384.2,731.0 1384.7,729.7 1385.3,731.8 1385.8,730.8 1386.4,731.0 1386.9,732.0 1387.5,729.7 1388.0,733.0 1388.6,730.0 1389.1,731.8 1389.7,732.5 1390.2,731.0 1390.8,732.6 1391.3,730.2 1391.9,731.7 1392.4,731.3 1393.0,730.5 1393.5,731.5 1394.1,730.1 1394.6,729.9 1395.2,732.2 1395.7,731.8 1396.3,730.2 1396.8,729.7 1397.4,730.6 1397.9,730.4 1398.5,732.0 1399.0,730.7 1399.6,731.6 1400.1,730.6 1400.7,729.6 1401.2,732.5 1401.8,731.1 1402.3,729.9 1402.9,730.9 1403.4,731.8 1404.0,730.1 1404.5,729.9 1405.1,730.0 1405.6,731.7 1406.2,732.8 1406.7,730.1 1407.3,730.4 1407.8,730.6 1408.4,730.8 1408.9,731.9 1409.5,731.1 1410.0,730.5 1410.6,731.3 1411.1,730.6 1411.7,729.3 1412.2,730.0 1412.8,731.9 1413.3,730.3 1413.9,729.6 1414.4,730.0 1415.0,728.9 1415.5,729.0 1416.1,728.4 1416.6,728.3 1417.2,729.0 1417.7,727.9 1418.3,727.5 1418.8,727.3 1419.4,726.4 1419.9,726.4 1420.5,726.3 1421.0,725.0 1421.6,723.6 1422.1,724.5 1422.7,722.1 1423.2,723.6 1423.8,722.7 1424.3,721.2 1424.9,721.0 1425.4,720.9 1426.0,719.0 1426.5,721.3 1427.1,721.4 1427.6,720.0 1428.2,720.3 1428.7,719.8 1429.3,720.5 1429.8,721.3 1430.4,721.3 1430.9,720.0 1431.5,720.8 1432.0,722.0 1432.6,721.3 1433.1,721.6 1433.7,722.5 1434.2,723.6 1434.8,724.3 1435.3,722.7 1435.9,724.6 1436.4,726.2 1437.0,725.4 1437.5,726.4 1438.1,727.0 1438.6,727.5 1439.2,727.7 1439.7,727.2 1440.3,729.4 1440.8,729.2 1441.4,729.0 1441.9,730.0 1442.5,729.3 1443.0,729.1 1443.6,729.3 1444.1,730.3 1444.7,731.3 1445.2,731.0 1445.8,730.1 1446.3,729.1 1446.9,729.9 1447.4,729.8 1448.0,731.3 1448.5,731.9 1449.1,728.5 1449.6,730.1 1450.2,730.9 1450.7,732.2 1451.3,731.0 1451.8,731.0 1452.4,732.0 1452.9,730.5 1453.5,730.5 1454.0,730.0 1454.6,731.0 1455.1,729.1 1455.7,730.6 1456.2,730.3 1456.8,730.6 1457.3,730.9 1457.9,731.5 1458.4,731.2 1459.0,730.5 1459.5,731.3 1460.1,730.4 1460.6,730.2 1461.2,730.6 1461.7,729.9 1462.3,731.7 1462.8,731.2 1463.4,730.9 1463.9,731.9 1464.5,732.3 1465.0,730.2 1465.6,730.6 1466.1,731.3 1466.7,730.1 1467.2,731.2 1467.8,730.3 1468.3,730.8 1468.9,731.5 1469.4,731.4 1470.0,729.9 1470.5,731.1 1471.1,732.5 1471.6,730.9 1472.2,730.7 1472.7,731.2 1473.3,731.3 1473.8,729.8 1474.4,731.7 1474.9,731.2 1475.5,731.1 1476.0,730.1 1476.6,730.6 1477.1,729.8 1477.7,731.8 1478.2,731.0 1478.8,728.9 1479.3,729.9 1479.9,730.4 1480.4,730.7 1481.0,729.9 1481.5,731.0 1482.1,730.9 1482.6,731.1 1483.2,730.6 1483.7,732.0 1484.3,729.8 1484.8,728.5 1485.4,730.3 1485.9,732.6 1486.5,732.6 1487.0,730.1 1487.6,729.6 1488.1,731.6 1488.7,729.2 1489.2,731.6 1489.8,730.3 1490.3,730.5 1490.9,730.3 1491.4,730.6 1492.0,731.0 1492.5,730.7 1493.1,730.6 1493.6,730.9 1494.2,730.8 1494.7,733.1 1495.3,732.2 1495.8,730.3 1496.4,731.2 1496.9,732.3 1497.5,730.0 1498.0,731.1 1498.6,730.4 1499.1,730.5 1499.7,731.8 1500.2,731.4 1500.8,729.7 1501.3,731.5 1501.9,729.7 1502.4,731.1 1503.0,731.9 1503.5,730.6 1504.1,732.3 1504.6,730.6 1505.2,730.0 1505.7,730.7 1506.3,730.7 1506.8,731.9 1507.4,730.5 1507.9,731.9 1508.5,730.9 1509.0,730.5 1509.6,730.8 1510.1,731.0 1510.7,730.8 1511.2,729.9 1511.8,730.9 1512.3,731.7 1512.9,730.8 1513.4,731.8 1514.0,730.0 1514.5,731.1 1515.1,730.9 1515.6,731.2 1516.2,730.2 1516.7,731.2 1517.3,730.9 1517.8,731.0 1518.4,730.5 1518.9,729.6 1519.5,730.3 1520.0,728.7 1520.6,731.6 1521.1,730.8 1521.7,731.3 1522.2,730.0 1522.8,731.4 1523.3,731.0 1523.9,731.3 1524.4,730.2 1525.0,731.7 1525.5,731.4 1526.1,732.5 1526.6,731.9 1527.2,730.3 1527.7,730.7 1528.3,732.1 1528.8,730.8 1529.4,730.0 1529.9,731.0 1530.5,731.0 1531.0,731.2 1531.6,731.4 1532.1,730.2 1532.7,730.5 1533.2,730.8 1533.8,731.8 1534.3,731.4 1534.9,730.6 1535.4,731.7 1536.0,729.7 1536.5,730.6 1537.1,730.3 1537.6,731.6 1538.2,729.7 1538.7,732.5 1539.3,729.5 1539.8,731.7 1540.4,730.5 1540.9,730.4 1541.5,731.0 1542.0,730.5 1542.6,731.4 1543.1,731.8 1543.7,731.5 1544.2,730.0 1544.8,731.0 1545.3,731.0 1545.9,730.6 1546.4,731.5 1547.0,730.8 1547.5,731.2 1548.1,731.6 1548.6,731.7 1549.2,730.1 1549.7,730.1 1550.3,731.6 1550.8,729.2 1551.4,729.2 1551.9,729.0 1552.5,731.2 1553.0,730.6 1553.6,729.2 1554.1,730.6 1554.7,729.2 1555.2,730.4 1555.8,729.9 1556.3,729.8 1556.9,730.5 1557.4,729.9 1558.0,729.0 1558.5,727.7 1559.1,728.5 1559.6,728.5 1560.2,728.3 1560.7,727.9 1561.3,728.4 1561.8,728.3 1562.4,726.8 1562.9,727.5 1563.5,725.1 1564.0,725.2 1564.6,726.0 1565.1,725.0 1565.7,724.5 1566.2,724.1 1566.8,723.2 1567.3,722.9 1567.9,722.3 1568.4,722.1 1569.0,720.0 1569.5,718.8 1570.1,718.8 1570.6,719.1 1571.2,717.1 1571.7,715.0 1572.3,716.3 1572.8,713.0 1573.4,712.4 1573.9,712.6 1574.5,710.4 1575.0,709.9 1575.6,708.8 1576.1,707.3 1576.7,707.2 1577.2,706.3 1577.8,705.2 1578.3,703.0 1578.9,704.7 1579.4,703.8 1580.0,702.2 1580.5,702.7 1581.1,702.6 1581.6,704.4 1582.2,703.4 1582.7,704.0 1583.3,705.2 1583.8,706.5 1584.4,703.3 1584.9,706.5 1585.5,708.5 1586.0,708.2 1586.6,708.4 1587.1,711.0 1587.7,710.9 1588.2,711.4 1588.8,712.5 1589.3,714.2 1589.9,715.6 1590.4,716.0 1591.0,715.6 1591.5,717.7 1592.1,718.4 1592.6,719.0 1593.2,720.7 1593.7,721.3 1594.3,721.7 1594.8,723.1 1595.4,723.0 1595.9,724.9 1596.5,724.1 1597.0,724.8 1597.6,724.5 1598.1,725.8 1598.7,726.0 1599.2,727.5 1599.8,727.6 1600.3,728.4 1600.9,728.6 1601.4,727.6 1602.0,727.6 1602.5,728.0 1603.1,729.4 1603.6,727.0 1604.2,729.2 1604.7,726.8 1605.3,728.5 1605.8,727.2 1606.4,728.9 1606.9,728.5 1607.5,729.4 1608.0,728.9 1608.6,727.8 1609.1,728.6 1609.7,725.8 1610.2,726.3 1610.8,725.6 1611.3,727.8 1611.9,725.3 1612.4,724.4 1613.0,723.3 1613.5,724.3 1614.1,724.5 1614.6,724.6 1615.2,721.2 1615.7,721.0 1616.3,722.4 1616.8,720.1 1617.4,720.8 1617.9,719.7 1618.5,718.4 1619.0,717.6 1619.6,716.9 1620.1,717.3 1620.7,716.3 1621.2,712.8 1621.8,715.1 1622.3,714.2 1622.9,714.0 1623.4,713.1 1624.0,712.0 1624.5,711.3 1625.1,710.1 1625.6,710.9 1626.2,709.2 1626.7,710.1 1627.3,709.9 1627.8,709.4 1628.4,709.5 1628.9,708.0 1629.5,709.0 1630.0,709.0 1630.6,709.7 1631.1,709.8 1631.7,709.7 1632.2,710.2 1632.8,711.3 1633.3,711.2 1633.9,713.0 1634.4,713.7 1635.0,715.6 1635.5,715.6 1636.1,716.1 1636.6,715.5 1637.2,716.8 1637.7,716.6 1638.3,718.9 1638.8,719.2 1639.4,720.4 1639.9,721.4 1640.5,720.9 1641.0,722.1 1641.6,721.5 1642.1,722.7 1642.7,724.7 1643.2,724.2 1643.8,725.7 1644.3,726.0 1644.9,724.6 1645.4,726.5 1646.0,726.2 1646.5,727.1 1647.1,727.0 1647.6,727.7 1648.2,728.2 1648.7,729.3 1649.3,729.0 1649.8,728.5 1650.4,729.3 1650.9,728.2 1651.5,728.6 1652.0,730.1 1652.6,730.4 1653.1,728.8 1653.7,730.4 1654.2,729.6 1654.8,729.5 1655.3,729.8 1655.9,730.1 1656.4,730.5 1657.0,731.2 1657.5,730.1 1658.1,730.9 1658.6,729.9 1659.2,730.6 1659.7,730.6 1660.3,730.1 1660.8,730.6 1661.4,731.1 1661.9,730.6 1662.5,730.6 1663.0,730.6"/>
<polyline stroke="#ff0000" points="183.5,919.5 184.1,919.5 184.6,919.6 185.2,920.0 185.7,920.8 186.3,920.1 186.8,920.9 187.4,920.5 187.9,921.0 188.5,918.8 189.0,919.1 189.6,918.6 190.1,920.3 190.7,919.6 191.2,920.7 191.8,920.2 192.3,920.0 192.9,921.9 193.4,920.5 194.0,920.0 194.5,919.1 195.1,921.1 195.6,920.9 196.2,919.1 196.7,920.0 197.3,920.4 197.8,918.7 198.4,919.9 198.9,921.5 199.5,918.8 200.0,920.7 200.6,922.0 201.1,919.8 201.7,919.9 202.2,920.6 202.8,920.9 203.3,920.8 203.9,919.1 204.4,919.8 205.0,920.6 205.5,920.2 206.1,921.6 206.6,920.3 207.2,920.3 207.7,922.3 208.3,920.6 208.8,919.8 209.4,920.7 209.9,920.5 210.5,921.4 211.0,921.2 211.6,920.5 212.1,920.5 212.7,920.4 213.2,922.1 213.8,922.7 214.3,920.9 214.9,921.5 215.4,921.3 216.0,920.5 216.5,920.5 217.1,920.6 217.6,919.3 218.2,920.4 218.7,921.5 219.3,922.0 219.8,921.0 220.4,920.9 220.9,921.8 221.5,923.1 222.0,920.4 222.6,920.6 223.1,920.9 223.7,921.8 224.2,920.6 224.8,921.8 225.3,920.8 225.9,922.0 226.4,921.2 227.0,921.1 227.5,922.3 228.1,920.5 228.6,920.9 229.2,922.3 229.7,922.3 230.3,921.8 230.8,919.7 231.4,922.3 231.9,922.0 232.5,921.4 233.0,920.0 233.6,922.5 234.1,923.4 234.7,922.3 235.2,923.1 235.8,921.3 236.3,922.1 236.9,921.4 237.4,921.0 238.0,921.7 238.5,921.2 239.1,921.4 239.6,921.4 240.2,921.7 240.7,921.9 241.3,922.3 241.8,921.1 242.4,922.5 242.9,920.6 243.5,922.3 244.0,922.3 244.6,920.2 245.1,922.0 245.7,923.3 246.2,922.8 246.8,922.0 247.3,921.9 247.9,922.7 248.4,922.6 249.0,923.2 249.5,922.7 250.1,923.4 250.6,922.9 251.2,921.9 251.7,921.7 252.3,922.2 252.8,923.0 253.4,921.9 253.9,923.5 254.5,921.4 255.0,922.5 255.6,922.0 256.1,923.1 256.7,923.0 257.2,922.7 257.8,921.8 258.3,922.1 258.9,922.4 259.4,923.9 260.0,922.4 260.5,923.5 261.1,923.9 261.6,922.3 262.2,922.6 262.7,921.1 263.3,922.8 263.8,923.8 264.4,922.4 264.9,923.5 265.5,924.0 266.0,923.6 266.6,922.9 267.1,923.5 267.7,922.7 268.2,923.0 268.8,925.6 269.3,923.0 269.9,922.8 270.4,923.6 271.0,923.8 271.5,924.2 272.1,922.9 272.6,922.6 273.2,922.7 273.7,924.3 274.3,924.6 274.8,923.0 275.4,923.2 275.9,923.7 276.5,922.9 277.0,923.3 277.6,924.7 278.1,922.7 278.7,924.2 279.2,924.9 279.8,922.9 280.3,924.9 280.9,924.0 281.4,923.5 282.0,924.8 282.5,924.1 283.1,923.8 283.6,923.6 284.2,923.4 284.7,923.6 285.3,923.9 285.8,924.9 286.4,924.0 286.9,924.5 287.5,923.9 288.0,924.7 288.6,924.2 289.1,925.5 289.7,924.6 290.2,922.9 290.8,924.3 291.3,924.0 291.9,925.3 292.4,924.5 293.0,925.2 293.5,925.1 294.1,923.9 294.6,924.2 295.2,924.5 295.7,923.5 296.3,927.6 296.8,925.0 297.4,923.4 297.9,923.3 298.5,924.7 299.0,924.2 299.6,923.2 300.1,923.1 300.7,924.6 301.2,924.2 301.8,925.0 302.3,924.6 302.9,925.7 303.4,923.0 304.0,925.2 304.5,924.0 305.1,923.9 305.6,925.6 306.2,923.0 306.7,924.7 307.3,924.5 307.8,925.9 308.4,923.5 308.9,925.1 309.5,925.3 310.0,924.8 310.6,925.0 311.1,924.7 311.7,923.6 312.2,924.4 312.8,923.2 313.3,925.8 313.9,925.8 314.4,923.7 315.0,926.0 315.5,924.8 316.1,923.6 316.6,924.3 317.2,925.5 317.7,924.9 318.3,924.1 318.8,925.6 319.4,924.9 319.9,924.6 320.5,924.0 321.0,925.6 321.6,925.9 322.1,924.2 322.7,924.9 323.2,924.9 323.8,925.3 324.3,924.2 324.9,927.0 325.4,925.4 326.0,926.0 326.5,924.9 327.1,927.1 327.6,925.7 328.2,923.6 328.7,926.2 329.3,925.3 329.8,924.3 330.4,925.3 330.9,924.5 331.5,926.0 332.0,925.9 332.6,924.1 333.1,926.0 333.7,926.3 334.2,923.2 334.8,926.6 335.3,926.0 335.9,926.2 336.4,926.7 337.0,925.4 337.5,924.7 338.1,925.8 338.6,925.4 339.2,925.9 339.7,923.4 340.3,925.2 340.8,927.9 341.4,925.9 341.9,926.5 342.5,925.9 343.0,925.3 343.6,926.4 344.1,926.3 344.7,925.3 345.2,925.5 345.8,926.3 346.3,925.0 346.9,924.9 347.4,926.8 348.0,926.8 348.5,925.6 349.1,927.2 349.6,926.5 350.2,926.2 350.7,925.3 351.3,926.5 351.8,925.3 352.4,925.8 352.9,925.3 353.5,927.0 354.0,926.0 354.6,925.9 355.1,926.5 355.7,928.2 356.2,926.9 356.8,924.6 357.3,926.0 357.9,926.1 358.4,925.5 359.0,925.1 359.5,927.5 360.1,926.7 360.6,926.9 361.2,926.4 361.7,926.8 362.3,926.5 362.8,926.3 363.4,925.9 363.9,925.2 364.5,925.5 365.0,926.1 365.6,925.4 366.1,926.5 366.7,925.4 367.2,926.9 367.8,924.9 368.3,926.5 368.9,927.4 369.4,927.0 370.0,925.8 370.5,927.4 371.1,926.3 371.6,926.6 372.2,926.3 372.7,924.7 373.3,926.8 373.8,926.7 374.4,927.0 374.9,925.5 375.5,927.1 376.0,925.8 376.6,925.3 377.1,925.5 377.7,926.6 378.2,926.1 378.8,927.8 379.3,927.2 379.9,927.5 380.4,926.3 381.0,925.5 381.5,925.1 382.1,926.3 382.6,927.7 383.2,927.7 383.7,925.1 384.3,926.8 384.8,927.2 385.4,925.7 385.9,926.6 386.5,926.0 387.0,926.8 387.6,926.8 388.1,926.4 388.7,926.6 389.2,926.1 389.8,926.8 390.3,923.8 390.9,927.2 391.4,927.7 392.0,925.6 392.5,926.6 393.1,927.3 393.6,926.2 394.2,926.2 394.7,926.8 395.3,927.5 395.8,925.6 396.4,927.1 396.9,927.4 397.5,925.7 398.0,927.0 398.6,928.2 399.1,926.9 399.7,926.8 400.2,928.2 400.8,926.4 401.3,926.8 401.9,928.2 402.4,928.6 403.0,926.0 403.5,926.8 404.1,927.4 404.6,928.1 405.2,927.4 405.7,926.5 406.3,927.7 406.8,925.0 407.4,927.2 407.9,927.7 408.5,928.0 409.0,927.5 409.6,925.8 410.1,927.9 410.7,926.6 411.2,926.7 411.8,928.1 412.3,925.3 412.9,929.1 413.4,927.9 414.0,927.9 414.5,927.0 415.1,927.7 415.6,927.7 416.2,927.3 416.7,925.8 417.3,927.5 417.8,927.4 418.4,928.0 418.9,927.5 419.5,927.4 420.0,927.3 420.6,925.8 421.1,925.5 421.7,927.1 422.2,926.6 422.8,927.6 423.3,926.1 423.9,926.7 424.4,927.9 425.0,927.2 425.5,926.4 426.1,927.7 426.6,927.5 427.2,926.3 427.7,926.7 428.3,927.4 428.8,927.1 429.4,927.0 429.9,926.8 430.5,924.9 431.0,927.7 431.6,927.6 432.1,927.2 432.7,925.7 433.2,926.9 433.8,927.3 434.3,927.1 434.9,927.2 435.4,925.3 436.0,927.9 436.5,927.8 437.1,927.9 437.6,928.5 438.2,927.5 438.7,928.6 439.3,926.3 439.8,928.0 440.4,927.2 440.9,928.6 441.5,926.9 442.0,926.9 442.6,926.8 443.1,927.8 443.7,926.7 444.2,928.2 444.8,928.1 445.3,927.4 445.9,927.5 446.4,926.8 447.0,929.1 447.5,928.2 448.1,926.4 448.6,928.3 449.2,926.5 449.7,927.7 450.3,928.0 450.8,927.1 451.4,926.9 451.9,927.7 452.5,927.9 453.0,927.6 453.6,927.7 454.1,926.2 454.7,927.4 455.2,926.5 455.8,927.5 456.3,926.4 456.9,926.7 457.4,926.5 458.0,927.0 458.5,927.1 459.1,927.2 459.6,927.8 460.2,926.5 460.7,928.7 461.3,927.0 461.8,926.6 462.4,927.6 462.9,926.9 463.5,926.9 464.0,927.5 464.6,926.2 465.1,928.2 465.7,926.0 466.2,926.7 466.8,928.2 467.3,928.3 467.9,927.6 468.4,926.0 469.0,926.9 469.5,926.7 470.1,926.7 470.6,927.0 471.2,927.6 471.7,928.0 472.3,927.5 472.8,926.5 473.4,927.3 473.9,927.5 474.5,928.0 475.0,926.7 475.6,926.8 476.1,926.7 476.7,926.3 477.2,927.6 477.8,926.8 478.3,928.1 478.9,928.0 479.4,927.3 480.0,927.5 480.5,926.9 481.1,927.5 481.6,927.4 482.2,928.3 482.7,926.9 483.3,928.2 483.8,927.9 484.4,927.6 484.9,926.2 485.5,926.4 486.0,927.3 486.6,927.4 487.1,926.2 487.7,928.8 488.2,927.4 488.8,927.2 489.3,927.8 489.9,926.6 490.4,925.4 491.0,927.2 491.5,926.6 492.1,927.3 492.6,927.4 493.2,925.9 493.7,926.6 494.3,928.1 494.8,928.5 495.4,927.2 495.9,927.4 496.5,927.6 497.0,927.5 497.6,929.6 498.1,928.8 498.7,926.7 499.2,926.9 499.8,928.2 500.3,927.7 500.9,928.0 501.4,927.7 502.0,926.3 502.5,925.8 503.1,925.5 503.6,926.0 504.2,926.8 504.7,925.7 505.3,927.7 505.8,924.1 506.4,924.8 506.9,925.5 507.5,925.6 508.0,922.4 508.6,922.9 509.1,922.6 509.7,919.5 510.2,921.4 510.8,920.3 511.3,919.3 511.9,920.2 512.4,919.3 513.0,918.6 513.5,920.7 514.1,919.3 514.6,921.5 515.2,918.8 515.7,922.4 516.3,922.0 516.8,923.2 517.4,923.8 517.9,925.1 518.5,924.0 519.0,925.0 519.6,925.3 520.1,926.3 520.7,926.1 521.2,926.6 521.8,926.9 522.3,925.1 522.9,926.5 523.4,926.9 524.0,927.0 524.5,929.1 525.1,927.6 525.6,928.1 526.2,926.5 526.7,927.6 527.3,928.5 527.8,926.5 528.4,926.3 528.9,925.5 529.5,925.7 530.0,928.4 530.6,925.5 531.1,926.7 531.7,927.5 532.2,927.0 532.8,927.0 533.3,926.7 533.9,927.6 534.4,925.4 535.0,926.4 535.5,926.6 536.1,924.9 536.6,926.0 537.2,926.4 537.7,927.9 538.3,925.9 538.8,927.5 539.4,925.8 539.9,927.9 540.5,926.0 541.0,927.3 541.6,928.9 542.1,927.1 542.7,927.5 543.2,925.2 543.8,926.6 544.3,926.7 544.9,925.8 545.4,926.1 546.0,924.8 546.5,925.3 547.1,924.5 547.6,924.2 548.2,926.1 548.7,924.6 549.3,925.5 549.8,926.7 550.4,925.9 550.9,924.1 551.5,924.2 552.0,923.6 552.6,923.8 553.1,924.9 553.7,924.4 554.2,921.8 554.8,920.2 555.3,921.4 555.9,917.2 556.4,918.3 557.0,913.9 557.5,914.1 558.1,911.3 558.6,907.6 559.2,903.3 559.7,900.6 560.3,895.5 560.8,889.6 561.4,885.2 561.9,875.7 562.5,867.6 563.0,860.9 563.6,853.2 564.1,840.1 564.7,830.4 565.2,819.7 565.8,809.8 566.3,799.9 566.9,788.4 567.4,779.4 568.0,770.1 568.5,763.5 569.1,756.9 569.6,752.8 570.2,749.2 570.7,748.5 571.3,747.6 571.8,751.2 572.4,755.8 572.9,762.3 573.5,768.5 574.0,777.5 574.6,788.2 575.1,797.7 575.7,807.1 576.2,818.1 576.8,828.3 577.3,839.0 577.9,848.4 578.4,857.1 579.0,866.7 579.5,873.2 580.1,882.4 580.6,889.2 581.2,894.9 581.7,898.0 582.3,903.5 582.8,908.1 583.4,910.8 583.9,913.6 584.5,915.7 585.0,918.2 585.6,918.8 586.1,918.8 586.7,921.5 587.2,924.0 587.8,923.4 588.3,923.9 588.9,925.5 589.4,923.4 590.0,923.5 590.5,924.3 591.1,925.3 591.6,926.6 592.2,926.1 592.7,925.3 593.3,926.7 593.8,925.8 594.4,925.9 594.9,925.5 595.5,924.9 596.0,925.6 596.6,925.0 597.1,924.1 597.7,925.3 598.2,927.3 598.8,925.9 599.3,924.9 599.9,926.3 600.4,928.4 601.0,926.2 601.5,928.6 602.1,926.9 602.6,924.6 603.2,926.8 603.7,928.4 604.3,927.0 604.8,925.5 605.4,926.9 605.9,927.8 606.5,925.2 607.0,926.8 607.6,927.0 608.1,927.7 608.7,926.4 609.2,925.9 609.8,927.3 610.3,927.1 610.9,926.7 611.4,926.4 612.0,927.6 612.5,926.4 613.1,928.8 613.6,926.5 614.2,928.0 614.7,927.8 615.3,927.3 615.8,926.7 616.4,927.9 616.9,927.0 617.5,926.1 618.0,927.0 618.6,927.3 619.1,925.3 619.7,927.9 620.2,925.2 620.8,927.1 621.3,926.8 621.9,925.3 622.4,926.7 623.0,925.9 623.5,927.2 624.1,926.3 624.6,927.1 625.2,927.2 625.7,927.9 626.3,926.1 626.8,928.4 627.4,925.0 627.9,925.8 628.5,926.4 629.0,925.3 629.6,925.2 630.1,927.1 630.7,925.2 631.2,926.1 631.8,927.5 632.3,927.8 632.9,926.4 633.4,927.4 634.0,927.4 634.5,927.2 635.1,926.4 635.6,925.8 636.2,925.4 636.7,927.9 637.3,927.1 637.8,926.5 638.4,926.5 638.9,927.3 639.5,927.4 640.0,926.5 640.6,925.5 641.1,927.2 641.7,926.0 642.2,925.0 642.8,927.6 643.3,928.0 643.9,926.6 644.4,926.2 645.0,926.0 645.5,925.8 646.1,925.6 646.6,925.1 647.2,925.0 647.7,925.1 648.3,925.3 648.8,925.4 649.4,925.5 649.9,923.8 650.5,924.9 651.0,923.1 651.6,922.5 652.1,923.2 652.7,920.4 653.2,920.9 653.8,918.1 654.3,918.1 654.9,917.5 655.4,915.8 656.0,911.9 656.5,909.5 657.1,909.0 657.6,904.8 658.2,902.2 658.7,895.7 659.3,894.2 659.8,888.7 660.4,882.4 660.9,878.6 661.5,874.7 662.0,868.6 662.6,861.8 663.1,856.3 663.7,853.8 664.2,847.8 664.8,843.2 665.3,839.9 665.9,836.7 666.4,833.9 667.0,833.6 667.5,833.6 668.1,832.5 668.6,836.1 669.2,836.6 669.7,840.6 670.3,844.7 670.8,848.9 671.4,854.1 671.9,856.1 672.5,861.0 673.0,866.7 673.6,872.8 674.1,878.9 674.7,882.5 675.2,887.4 675.8,892.4 676.3,896.5 676.9,902.9 677.4,903.5 678.0,909.3 678.5,912.5 679.1,912.8 679.6,914.9 680.2,916.9 680.7,918.0 681.3,919.4 681.8,919.9 682.4,922.3 682.9,923.6 683.5,922.7 684.0,924.7 684.6,924.0 685.1,924.1 685.7,925.2 686.2,925.0 686.8,927.0 687.3,926.9 687.9,927.0 688.4,926.7 689.0,924.8 689.5,925.6 690.1,926.1 690.6,927.8 691.2,925.6 691.7,927.4 692.3,924.6 692.8,926.0 693.4,926.1 693.9,927.5 694.5,927.4 695.0,926.7 695.6,927.0 696.1,925.4 696.7,925.0 697.2,927.7 697.8,929.2 698.3,927.6 698.9,926.3 699.4,927.2 700.0,925.0 700.5,926.5 701.1,926.4 701.6,927.8 702.2,926.8 702.7,927.4 703.3,925.2 703.8,926.0 704.4,925.4 704.9,926.7 705.5,925.9 706.0,925.5 706.6,923.2 707.1,926.2 707.7,923.8 708.2,923.6 708.8,925.3 709.3,923.8 709.9,921.9 710.4,921.7 711.0,919.2 711.5,919.0 712.1,919.8 712.6,918.0 713.2,917.8 713.7,916.3 714.3,916.7 714.8,916.6 715.4,916.8 715.9,919.0 716.5,917.6 717.0,918.3 717.6,919.7 718.1,919.0 718.7,920.6 719.2,919.0 719.8,921.0 720.3,922.5 720.9,922.0 721.4,923.8 722.0,923.6 722.5,925.0 723.1,925.9 723.6,925.1 724.2,924.6 724.7,925.1 725.3,926.3 725.8,926.4 726.4,925.1 726.9,927.6 727.5,928.0 728.0,926.9 728.6,927.3 729.1,927.3 729.7,926.2 730.2,927.1 730.8,927.5 731.3,927.0 731.9,926.0 732.4,925.9 733.0,926.6 733.5,926.6 734.1,926.5 734.6,925.3 735.2,926.9 735.7,926.7 736.3,927.1 736.8,926.0 737.4,927.7 737.9,927.2 738.5,928.0 739.0,926.5 739.6,927.9 740.1,927.5 740.7,926.9 741.2,927.4 741.8,926.5 742.3,927.1 742.9,927.2 743.4,927.2 744.0,927.5 744.5,927.9 745.1,926.3 745.6,927.6 746.2,925.2 746.7,926.3 747.3,929.2 747.8,927.9 748.4,927.3 748.9,929.6 749.5,926.4 750.0,927.1 750.6,926.2 751.1,927.6 751.7,926.6 752.2,925.5 752.8,926.0 753.3,926.6 753.9,927.8 754.4,927.6 755.0,927.9 755.5,927.5 756.1,926.6 756.6,928.8 757.2,926.6 757.7,927.5 758.3,926.5 758.8,926.6 759.4,926.7 759.9,926.0 760.5,927.6 761.0,926.6 761.6,927.4 762.1,927.6 762.7,926.9 763.2,926.3 763.8,926.4 764.3,925.1 764.9,925.8 765.4,923.3 766.0,924.1 766.5,925.3 767.1,923.0 767.6,924.4 768.2,924.6 768.7,923.8 769.3,922.8 769.8,924.3 770.4,925.3 770.9,924.6 771.5,922.0 772.0,925.1 772.6,923.0 773.1,925.1 773.7,923.9 774.2,924.7 774.8,925.7 775.3,923.7 775.9,926.1 776.4,925.2 777.0,926.0 777.5,925.6 778.1,925.7 778.6,924.8 779.2,926.0 779.7,927.2 780.3,925.8 780.8,928.0 781.4,927.4 781.9,925.6 782.5,927.0 783.0,927.5 783.6,927.0 784.1,927.6 784.7,928.1 785.2,926.9 785.8,927.7 786.3,927.1 786.9,926.4 787.4,927.8 788.0,926.9 788.5,927.1 789.1,928.1 789.6,925.5 790.2,927.9 790.7,927.7 791.3,927.5 791.8,927.9 792.4,927.7 792.9,927.8 793.5,926.0 794.0,927.0 794.6,927.6 795.1,927.2 795.7,927.5 796.2,926.6 796.8,929.0 797.3,927.4 797.9,928.1 798.4,928.2 799.0,927.0 799.5,927.0 800.1,926.5 800.6,927.8 801.2,928.6 801.7,928.1 802.3,926.2 802.8,928.4 803.4,928.5 803.9,927.7 804.5,926.0 805.0,925.7 805.6,926.8 806.1,926.1 806.7,927.8 807.2,928.6 807.8,928.7 808.3,928.3 808.9,928.4 809.4,928.5 810.0,927.6 810.5,926.7 811.1,929.2 811.6,929.2 812.2,925.6 812.7,928.7 813.3,927.8 813.8,927.0 814.4,928.9 814.9,926.8 815.5,927.3 816.0,927.5 816.6,928.7 817.1,927.0 817.7,927.7 818.2,927.1 818.8,927.9 819.3,928.9 819.9,928.7 820.4,927.7 821.0,927.7 821.5,926.3 822.1,928.8 822.6,927.8 823.2,928.9 823.7,927.9 824.3,927.7 824.8,927.6 825.4,926.2 825.9,928.4 826.5,928.4 827.0,927.1 827.6,928.1 828.1,927.8 828.7,927.1 829.2,926.9 829.8,926.4 830.3,926.7 830.9,928.6 831.4,928.4 832.0,927.7 832.5,928.6 833.1,927.8 833.6,927.2 834.2,928.1 834.7,927.4 835.3,927.4 835.8,928.1 836.4,926.6 836.9,928.8 837.5,928.0 838.0,927.1 838.6,928.2 839.1,926.5 839.7,926.3 840.2,927.3 840.8,927.9 841.3,927.0 841.9,926.5 842.4,929.4 843.0,927.9 843.5,926.7 844.1,927.3 844.6,928.4 845.2,927.5 845.7,926.5 846.3,929.8 846.8,929.0 847.4,926.3 847.9,928.3 848.5,928.2 849.0,926.9 849.6,927.3 850.1,927.0 850.7,928.0 851.2,929.2 851.8,927.8 852.3,927.3 852.9,929.0 853.4,927.6 854.0,926.9 854.5,927.0 855.1,927.2 855.6,928.2 856.2,928.4 856.7,928.6 857.3,928.5 857.8,926.1 858.4,928.1 858.9,926.5 859.5,927.8 860.0,927.7 860.6,927.0 861.1,927.2 861.7,927.2 862.2,927.9 862.8,927.8 863.3,929.2 863.9,927.8 864.4,928.1 865.0,927.9 865.5,927.5 866.1,928.4 866.6,926.9 867.2,927.8 867.7,927.0 868.3,927.3 868.8,926.0 869.4,926.3 869.9,928.2 870.5,927.7 871.0,928.1 871.6,927.3 872.1,926.7 872.7,928.0 873.2,928.4 873.8,926.6 874.3,925.4 874.9,926.9 875.4,927.3 876.0,925.9 876.5,926.2 877.1,927.8 877.6,928.4 878.2,928.7 878.7,926.9 879.3,927.5 879.8,926.9 880.4,926.0 880.9,926.2 881.5,927.1 882.0,925.2 882.6,925.2 883.1,925.3 883.7,924.2 884.2,923.2 884.8,923.2 885.3,923.9 885.9,922.2 886.4,920.3 887.0,920.5 887.5,919.0 888.1,919.2 888.6,918.1 889.2,916.6 889.7,916.9 890.3,917.6 890.8,917.9 891.4,917.7 891.9,919.0 892.5,918.5 893.0,919.6 893.6,920.7 894.1,919.8 894.7,923.0 895.2,922.7 895.8,924.0 896.3,923.8 896.9,925.9 897.4,925.4 898.0,925.5 898.5,927.3 899.1,926.1 899.6,925.2 900.2,928.1 900.7,926.5 901.3,926.1 901.8,926.8 902.4,928.3 902.9,927.6 903.5,926.4 904.0,927.3 904.6,929.4 905.1,928.0 905.7,928.3 906.2,926.9 906.8,927.1 907.3,929.1 907.9,927.0 908.4,927.7 909.0,928.0 909.5,928.0 910.1,927.1 910.6,928.1 911.2,926.9 911.7,926.3 912.3,927.7 912.8,927.3 913.4,926.8 913.9,927.2 914.5,926.1 915.0,927.6 915.6,928.2 916.1,925.6 916.7,926.4 917.2,926.7 917.8,926.1 918.3,927.4 918.9,928.5 919.4,927.3 920.0,928.4 920.5,927.3 921.1,927.6 921.6,926.8 922.2,927.5 922.7,926.3 923.3,928.4 923.8,926.2 924.4,926.3 924.9,927.3 925.5,926.4 926.0,927.6 926.6,927.6 927.1,927.2 927.7,925.5 928.2,926.9 928.8,927.2 929.3,927.0 929.9,926.9 930.4,926.3 931.0,926.5 931.5,927.3 932.1,927.3 932.6,926.4 933.2,927.4 933.7,927.8 934.3,927.9 934.8,926.7 935.4,928.8 935.9,925.4 936.5,927.3 937.0,926.9 937.6,926.6 938.1,926.6 938.7,926.1 939.2,926.8 939.8,926.4 940.3,926.2 940.9,926.2 941.4,926.1 942.0,927.0 942.5,927.5 943.1,926.2 943.6,926.5 944.2,927.6 944.7,925.2 945.3,926.5 945.8,925.4 946.4,926.1 946.9,926.2 947.5,926.7 948.0,924.5 948.6,925.6 949.1,924.3 949.7,925.1 950.2,922.6 950.8,924.0 951.3,923.9 951.9,923.3 952.4,921.6 953.0,919.4 953.5,917.5 954.1,917.3 954.6,915.2 955.2,911.2 955.7,909.3 956.3,908.2 956.8,904.8 957.4,900.2 957.9,897.1 958.5,893.7 959.0,890.7 959.6,886.4 960.1,881.7 960.7,876.3 961.2,871.3 961.8,866.1 962.3,862.7 962.9,854.9 963.4,851.9 964.0,847.4 964.5,842.5 965.1,836.3 965.6,834.8 966.2,831.9 966.7,829.0 967.3,827.8 967.8,827.3 968.4,828.2 968.9,828.0 969.5,830.6 970.0,831.7 970.6,837.4 971.1,837.9 971.7,843.2 972.2,846.7 972.8,851.5 973.3,857.7 973.9,863.6 974.4,866.8 975.0,872.9 975.5,877.0 976.1,883.0 976.6,884.5 977.2,891.7 977.7,894.9 978.3,898.8 978.8,902.1 979.4,904.1 979.9,909.1 980.5,911.3 981.0,912.4 981.6,914.7 982.1,916.5 982.7,916.6 983.2,919.6 983.8,921.2 984.3,921.7 984.9,922.4 985.4,921.6 986.0,923.0 986.5,922.7 987.1,923.9 987.6,925.0 988.2,927.7 988.7,925.1 989.3,925.5 989.8,925.2 990.4,925.5 990.9,926.8 991.5,925.5 992.0,926.1 992.6,926.7 993.1,925.4 993.7,928.3 994.2,925.9 994.8,926.6 995.3,927.7 995.9,926.1 996.4,923.9 997.0,926.7 997.5,927.3 998.1,926.7 998.6,927.5 999.2,926.8 999.7,928.4 1000.3,928.4 1000.8,927.0 1001.4,928.0 1001.9,926.5 1002.5,927.4 1003.0,927.8 1003.6,926.0 1004.1,927.2 1004.7,925.2 1005.2,925.9 1005.8,925.8 1006.3,927.7 1006.9,926.2 1007.4,928.4 1008.0,926.2 1008.5,926.5 1009.1,925.9 1009.6,927.1 1010.2,926.6 1010.7,926.9 1011.3,927.5 1011.8,927.1 1012.4,926.4 1012.9,926.0 1013.5,927.2 1014.0,928.7 1014.6,928.3 1015.1,927.3 1015.7,926.6 1016.2,928.0 1016.8,927.4 1017.3,926.7 1017.9,926.8 1018.4,926.7 1019.0,926.3 1019.5,927.1 1020.1,926.7 1020.6,927.4 1021.2,926.9 1021.7,925.9 1022.3,927.4 1022.8,928.9 1023.4,926.1 1023.9,927.6 1024.5,926.6 1025.0,927.5 1025.6,929.7 1026.1,928.3 1026.7,926.8 1027.2,926.6 1027.8,926.8 1028.3,927.8 1028.9,927.0 1029.4,926.3 1030.0,927.6 1030.5,925.3 1031.1,926.7 1031.6,928.6 1032.2,926.9 1032.7,927.2 1033.3,926.4 1033.8,926.5 1034.4,926.1 1034.9,926.4 1035.5,926.0 1036.0,924.7 1036.6,927.2 1037.1,926.4 1037.7,928.2 1038.2,927.9 1038.8,927.9 1039.3,928.4 1039.9,928.5 1040.4,927.0 1041.0,928.5 1041.5,929.1 1042.1,927.9 1042.6,926.2 1043.2,927.1 1043.7,927.4 1044.3,926.8 1044.8,926.5 1045.4,928.7 1045.9,927.2 1046.5,927.1 1047.0,928.0 1047.6,926.6 1048.1,929.2 1048.7,927.5 1049.2,927.7 1049.8,926.1 1050.3,926.9 1050.9,928.2 1051.4,927.5 1052.0,927.3 1052.5,927.1 1053.1,927.8 1053.6,925.7 1054.2,928.8 1054.7,928.3 1055.3,928.3 1055.8,925.8 1056.4,927.7 1056.9,928.8 1057.5,927.2 1058.0,926.6 1058.6,925.8 1059.1,926.8 1059.7,927.9 1060.2,925.7 1060.8,926.2 1061.3,928.1 1061.9,926.3 1062.4,927.4 1063.0,927.3 1063.5,928.1 1064.1,926.6 1064.6,927.3 1065.2,926.5 1065.7,928.6 1066.3,927.1 1066.8,928.9 1067.4,926.7 1067.9,927.3 1068.5,928.6 1069.0,927.7 1069.6,927.9 1070.1,927.1 1070.7,927.3 1071.2,926.9 1071.8,927.5 1072.3,928.2 1072.9,928.4 1073.4,927.9 1074.0,925.8 1074.5,928.3 1075.1,928.1 1075.6,927.2 1076.2,927.1 1076.7,925.3 1077.3,926.5 1077.8,928.1 1078.4,928.8 1078.9,927.4 1079.5,926.5 1080.0,927.1 1080.6,927.6 1081.1,926.3 1081.7,927.3 1082.2,927.7 1082.8,928.2 1083.3,926.8 1083.9,926.3 1084.4,927.2 1085.0,926.9 1085.5,927.0 1086.1,926.8 1086.6,927.3 1087.2,926.7 1087.7,927.7 1088.3,927.1 1088.8,926.6 1089.4,928.8 1089.9,927.7 1090.5,927.3 1091.0,926.8 1091.6,925.4 1092.1,927.7 1092.7,927.8 1093.2,926.6 1093.8,927.5 1094.3,926.6 1094.9,927.3 1095.4,927.4 1096.0,926.6 1096.5,926.7 1097.1,927.7 1097.6,926.6 1098.2,925.8 1098.7,925.5 1099.3,927.0 1099.8,928.7 1100.4,927.3 1100.9,927.7 1101.5,928.0 1102.0,927.2 1102.6,928.4 1103.1,925.5 1103.7,927.1 1104.2,928.4 1104.8,927.4 1105.3,928.2 1105.9,928.3 1106.4,927.2 1107.0,925.7 1107.5,926.3 1108.1,927.4 1108.6,929.1 1109.2,927.3 1109.7,925.1 1110.3,926.9 1110.8,927.0 1111.4,927.1 1111.9,927.5 1112.5,923.9 1113.0,929.3 1113.6,927.9 1114.1,927.6 1114.7,927.3 1115.2,926.0 1115.8,926.7 1116.3,928.7 1116.9,927.5 1117.4,927.5 1118.0,926.8 1118.5,926.6 1119.1,927.0 1119.6,927.9 1120.2,927.8 1120.7,927.6 1121.3,925.7 1121.8,926.4 1122.4,926.6 1122.9,925.7 1123.5,927.2 1124.0,925.7 1124.6,928.7 1125.1,926.8 1125.7,926.4 1126.2,925.5 1126.8,926.0 1127.3,927.5 1127.9,924.6 1128.4,925.6 1129.0,927.0 1129.5,923.3 1130.1,925.7 1130.6,924.7 1131.2,926.3 1131.7,924.3 1132.3,923.6 1132.8,924.5 1133.4,926.0 1133.9,923.8 1134.5,923.9 1135.0,923.5 1135.6,922.0 1136.1,921.8 1136.7,921.2 1137.2,920.9 1137.8,919.4 1138.3,917.9 1138.9,915.2 1139.4,917.0 1140.0,913.2 1140.5,911.1 1141.1,909.8 1141.6,908.0 1142.2,903.9 1142.7,901.0 1143.3,896.3 1143.8,893.7 1144.4,890.0 1144.9,884.9 1145.5,881.7 1146.0,875.4 1146.6,873.2 1147.1,865.6 1147.7,862.8 1148.2,856.1 1148.8,852.5 1149.3,848.4 1149.9,840.9 1150.4,837.9 1151.0,834.0 1151.5,829.1 1152.1,826.6 1152.6,825.6 1153.2,821.3 1153.7,820.7 1154.3,819.0 1154.8,819.3 1155.4,821.5 1155.9,823.6 1156.5,823.4 1157.0,827.9 1157.6,831.0 1158.1,832.5 1158.7,838.7 1159.2,841.6 1159.8,846.3 1160.3,851.2 1160.9,856.3 1161.4,862.1 1162.0,867.7 1162.5,873.0 1163.1,875.5 1163.6,883.0 1164.2,884.9 1164.7,888.2 1165.3,894.3 1165.8,897.9 1166.4,901.8 1166.9,904.7 1167.5,907.7 1168.0,908.4 1168.6,911.1 1169.1,912.9 1169.7,915.5 1170.2,916.3 1170.8,919.4 1171.3,919.8 1171.9,921.0 1172.4,920.9 1173.0,921.6 1173.5,922.3 1174.1,923.2 1174.6,921.6 1175.2,923.1 1175.7,925.0 1176.3,924.8 1176.8,925.4 1177.4,924.9 1177.9,924.7 1178.5,925.5 1179.0,925.0 1179.6,926.2 1180.1,925.7 1180.7,926.0 1181.2,926.3 1181.8,925.3 1182.3,925.3 1182.9,925.5 1183.4,925.9 1184.0,927.3 1184.5,925.8 1185.1,925.8 1185.6,927.0 1186.2,927.4 1186.7,926.6 1187.3,927.2 1187.8,926.3 1188.4,926.4 1188.9,926.3 1189.5,927.0 1190.0,926.3 1190.6,926.3 1191.1,925.4 1191.7,925.3 1192.2,926.1 1192.8,925.8 1193.3,926.9 1193.9,925.5 1194.4,926.2 1195.0,925.4 1195.5,924.4 1196.1,924.0 1196.6,924.4 1197.2,924.5 1197.7,922.8 1198.3,924.3 1198.8,923.4 1199.4,922.9 1199.9,921.4 1200.5,921.0 1201.0,919.8 1201.6,916.7 1202.1,916.5 1202.7,917.3 1203.2,913.7 1203.8,913.3 1204.3,911.9 1204.9,909.9 1205.4,908.5 1206.0,908.6 1206.5,903.3 1207.1,902.2 1207.6,903.5 1208.2,901.6 1208.7,899.0 1209.3,900.1 1209.8,897.1 1210.4,896.7 1210.9,897.2 1211.5,896.9 1212.0,897.7 1212.6,897.6 1213.1,898.3 1213.7,899.9 1214.2,902.2 1214.8,902.0 1215.3,903.5 1215.9,906.5 1216.4,907.3 1217.0,911.0 1217.5,912.6 1218.1,911.8 1218.6,912.1 1219.2,914.3 1219.7,917.0 1220.3,917.4 1220.8,920.1 1221.4,919.2 1221.9,920.7 1222.5,922.2 1223.0,924.1 1223.6,922.6 1224.1,924.5 1224.7,924.6 1225.2,925.2 1225.8,924.9 1226.3,925.3 1226.9,925.9 1227.4,926.2 1228.0,925.2 1228.5,926.3 1229.1,926.6 1229.6,927.4 1230.2,926.3 1230.7,928.2 1231.3,925.2 1231.8,925.4 1232.4,926.1 1232.9,926.8 1233.5,928.1 1234.0,927.4 1234.6,927.4 1235.1,927.1 1235.7,926.1 1236.2,928.7 1236.8,927.9 1237.3,926.5 1237.9,927.0 1238.4,927.1 1239.0,927.9 1239.5,927.9 1240.1,927.9 1240.6,926.9 1241.2,927.9 1241.7,927.4 1242.3,926.7 1242.8,927.4 1243.4,927.0 1243.9,927.1 1244.5,927.7 1245.0,926.6 1245.6,929.3 1246.1,927.9 1246.7,927.6 1247.2,928.2 1247.8,927.2 1248.3,928.5 1248.9,925.1 1249.4,927.5 1250.0,926.8 1250.5,925.9 1251.1,928.4 1251.6,928.3 1252.2,927.0 1252.7,928.6 1253.3,929.2 1253.8,926.9 1254.4,927.9 1254.9,927.7 1255.5,926.4 1256.0,926.5 1256.6,927.9 1257.1,925.7 1257.7,926.8 1258.2,927.5 1258.8,927.6 1259.3,926.7 1259.9,927.3 1260.4,928.1 1261.0,927.7 1261.5,928.3 1262.1,928.1 1262.6,927.9 1263.2,926.5 1263.7,927.2 1264.3,927.2 1264.8,928.0 1265.4,926.9 1265.9,926.3 1266.5,927.1 1267.0,926.0 1267.6,927.1 1268.1,929.1 1268.7,925.9 1269.2,928.8 1269.8,926.2 1270.3,926.7 1270.9,927.3 1271.4,927.2 1272.0,927.3 1272.5,927.9 1273.1,928.4 1273.6,928.9 1274.2,927.0 1274.7,926.4 1275.3,925.7 1275.8,927.2 1276.4,926.5 1276.9,927.2 1277.5,925.4 1278.0,928.3 1278.6,928.4 1279.1,927.8 1279.7,928.0 1280.2,926.1 1280.8,927.7 1281.3,927.6 1281.9,926.7 1282.4,928.5 1283.0,926.6 1283.5,927.1 1284.1,928.3 1284.6,927.2 1285.2,928.2 1285.7,927.4 1286.3,926.5 1286.8,927.0 1287.4,926.5 1287.9,926.9 1288.5,927.3 1289.0,927.9 1289.6,928.3 1290.1,926.3 1290.7,927.3 1291.2,927.4 1291.8,928.3 1292.3,928.1 1292.9,927.6 1293.4,926.7 1294.0,927.4 1294.5,926.5 1295.1,926.2 1295.6,928.0 1296.2,927.0 1296.7,926.7 1297.3,928.3 1297.8,927.5 1298.4,930.0 1298.9,929.1 1299.5,928.4 1300.0,927.4 1300.6,927.0 1301.1,929.6 1301.7,927.4 1302.2,925.7 1302.8,927.5 1303.3,927.7 1303.9,927.9 1304.4,925.8 1305.0,929.5 1305.5,927.8 1306.1,928.1 1306.6,928.3 1307.2,927.9 1307.7,928.5 1308.3,927.8 1308.8,929.1 1309.4,927.2 1309.9,926.8 1310.5,926.9 1311.0,928.3 1311.6,928.3 1312.1,926.9 1312.7,926.8 1313.2,927.4 1313.8,927.7 1314.3,927.3 1314.9,929.0 1315.4,927.1 1316.0,927.5 1316.5,927.0 1317.1,927.6 1317.6,927.9 1318.2,927.5 1318.7,927.6 1319.3,926.5 1319.8,928.3 1320.4,927.3 1320.9,927.4 1321.5,927.2 1322.0,928.4 1322.6,928.5 1323.1,928.0 1323.7,927.0 1324.2,928.2 1324.8,927.0 1325.3,927.4 1325.9,926.6 1326.4,927.1 1327.0,928.6 1327.5,927.5 1328.1,927.1 1328.6,928.7 1329.2,927.4 1329.7,928.0 1330.3,926.3 1330.8,926.1 1331.4,926.0 1331.9,927.6 1332.5,925.9 1333.0,928.0 1333.6,928.7 1334.1,927.6 1334.7,927.3 1335.2,928.1 1335.8,926.9 1336.3,928.8 1336.9,927.8 1337.4,928.2 1338.0,927.3 1338.5,928.8 1339.1,928.5 1339.6,927.4 1340.2,928.4 1340.7,927.8 1341.3,927.4 1341.8,926.7 1342.4,927.5 1342.9,926.2 1343.5,928.8 1344.0,926.9 1344.6,929.4 1345.1,926.0 1345.7,925.8 1346.2,925.9 1346.8,928.6 1347.3,926.4 1347.9,928.4 1348.4,927.4 1349.0,926.9 1349.5,927.6 1350.1,928.1 1350.6,928.5 1351.2,928.8 1351.7,926.9 1352.3,928.6 1352.8,927.9 1353.4,928.1 1353.9,928.8 1354.5,927.7 1355.0,928.2 1355.6,928.8 1356.1,926.1 1356.7,926.9 1357.2,926.4 1357.8,925.6 1358.3,927.4 1358.9,928.6 1359.4,928.0 1360.0,927.2 1360.5,928.7 1361.1,928.6 1361.6,929.2 1362.2,929.3 1362.7,927.8 1363.3,927.3 1363.8,927.5 1364.4,928.4 1364.9,925.5 1365.5,927.2 1366.0,928.3 1366.6,927.1 1367.1,927.0 1367.7,927.4 1368.2,927.0 1368.8,926.3 1369.3,927.3 1369.9,927.8 1370.4,928.7 1371.0,929.1 1371.5,927.7 1372.1,927.1 1372.6,925.7 1373.2,928.8 1373.7,927.5 1374.3,928.0 1374.8,928.2 1375.4,927.9 1375.9,927.5 1376.5,927.6 1377.0,928.3 1377.6,926.1 1378.1,927.7 1378.7,927.8 1379.2,929.5 1379.8,927.1 1380.3,926.9 1380.9,927.5 1381.4,928.1 1382.0,926.4 1382.5,928.3 1383.1,928.0 1383.6,926.0 1384.2,925.9 1384.7,928.6 1385.3,927.5 1385.8,929.0 1386.4,927.3 1386.9,925.8 1387.5,927.1 1388.0,926.8 1388.6,928.0 1389.1,927.2 1389.7,925.8 1390.2,925.9 1390.8,927.3 1391.3,928.9 1391.9,927.5 1392.4,928.4 1393.0,925.5 1393.5,927.7 1394.1,927.6 1394.6,928.0 1395.2,927.3 1395.7,925.1 1396.3,926.9 1396.8,927.2 1397.4,928.1 1397.9,927.4 1398.5,927.8 1399.0,926.8 1399.6,927.9 1400.1,927.5 1400.7,927.6 1401.2,927.1 1401.8,927.4 1402.3,927.7 1402.9,927.5 1403.4,924.4 1404.0,927.0 1404.5,927.9 1405.1,927.8 1405.6,926.4 1406.2,927.5 1406.7,926.5 1407.3,927.3 1407.8,926.1 1408.4,926.9 1408.9,925.7 1409.5,926.5 1410.0,926.5 1410.6,926.4 1411.1,926.3 1411.7,927.3 1412.2,925.2 1412.8,925.9 1413.3,924.8 1413.9,925.4 1414.4,924.9 1415.0,923.4 1415.5,924.3 1416.1,923.6 1416.6,922.7 1417.2,922.3 1417.7,923.2 1418.3,921.7 1418.8,921.0 1419.4,921.3 1419.9,920.5 1420.5,920.2 1421.0,919.9 1421.6,917.4 1422.1,918.5 1422.7,918.9 1423.2,917.9 1423.8,917.9 1424.3,917.5 1424.9,918.0 1425.4,916.4 1426.0,916.2 1426.5,913.4 1427.1,916.9 1427.6,917.4 1428.2,916.1 1428.7,916.2 1429.3,917.5 1429.8,915.7 1430.4,916.7 1430.9,916.3 1431.5,919.6 1432.0,918.9 1432.6,917.9 1433.1,920.0 1433.7,919.9 1434.2,920.6 1434.8,922.7 1435.3,920.7 1435.9,923.6 1436.4,920.9 1437.0,922.3 1437.5,923.1 1438.1,922.8 1438.6,923.3 1439.2,925.2 1439.7,924.2 1440.3,925.2 1440.8,925.1 1441.4,925.8 1441.9,925.8 1442.5,925.2 1443.0,926.3 1443.6,926.9 1444.1,926.7 1444.7,927.9 1445.2,927.8 1445.8,925.3 1446.3,925.6 1446.9,924.5 1447.4,925.8 1448.0,927.1 1448.5,925.9 1449.1,925.6 1449.6,926.3 1450.2,928.1 1450.7,926.6 1451.3,927.1 1451.8,928.1 1452.4,926.5 1452.9,926.5 1453.5,926.4 1454.0,928.3 1454.6,928.0 1455.1,927.8 1455.7,926.9 1456.2,927.9 1456.8,927.6 1457.3,926.6 1457.9,929.9 1458.4,927.7 1459.0,927.8 1459.5,928.2 1460.1,928.0 1460.6,928.6 1461.2,927.0 1461.7,928.0 1462.3,926.3 1462.8,927.6 1463.4,929.2 1463.9,928.2 1464.5,929.3 1465.0,927.0 1465.6,926.8 1466.1,927.8 1466.7,926.2 1467.2,927.8 1467.8,928.2 1468.3,927.3 1468.9,927.8 1469.4,926.9 1470.0,927.8 1470.5,927.6 1471.1,928.0 1471.6,926.3 1472.2,925.9 1472.7,926.1 1473.3,927.3 1473.8,927.3 1474.4,928.3 1474.9,927.3 1475.5,927.1 1476.0,929.2 1476.6,926.4 1477.1,927.1 1477.7,927.7 1478.2,928.0 1478.8,928.2 1479.3,927.9 1479.9,927.3 1480.4,926.9 1481.0,928.9 1481.5,927.3 1482.1,928.4 1482.6,926.4 1483.2,926.8 1483.7,927.4 1484.3,929.5 1484.8,928.7 1485.4,928.4 1485.9,925.9 1486.5,928.5 1487.0,927.5 1487.6,927.8 1488.1,928.3 1488.7,926.6 1489.2,927.5 1489.8,927.1 1490.3,926.5 1490.9,927.3 1491.4,927.6 1492.0,926.3 1492.5,926.9 1493.1,928.3 1493.6,927.2 1494.2,928.0 1494.7,928.0 1495.3,927.6 1495.8,927.7 1496.4,927.7 1496.9,927.4 1497.5,928.2 1498.0,927.6 1498.6,926.5 1499.1,927.0 1499.7,925.9 1500.2,927.3 1500.8,926.7 1501.3,927.8 1501.9,926.0 1502.4,928.4 1503.0,927.0 1503.5,925.7 1504.1,928.8 1504.6,927.2 1505.2,926.7 1505.7,927.4 1506.3,925.4 1506.8,927.0 1507.4,926.7 1507.9,926.9 1508.5,928.6 1509.0,928.8 1509.6,929.6 1510.1,927.0 1510.7,927.2 1511.2,926.8 1511.8,927.5 1512.3,927.9 1512.9,926.7 1513.4,929.3 1514.0,927.4 1514.5,927.7 1515.1,926.2 1515.6,927.8 1516.2,927.8 1516.7,926.7 1517.3,928.7 1517.8,927.3 1518.4,926.0 1518.9,926.1 1519.5,927.5 1520.0,927.6 1520.6,927.3 1521.1,928.4 1521.7,928.2 1522.2,928.7 1522.8,926.6 1523.3,926.9 1523.9,929.3 1524.4,927.5 1525.0,926.6 1525.5,927.3 1526.1,928.5 1526.6,926.6 1527.2,927.9 1527.7,925.9 1528.3,927.2 1528.8,926.6 1529.4,927.0 1529.9,926.7 1530.5,927.4 1531.0,926.2 1531.6,927.3 1532.1,927.0 1532.7,927.7 1533.2,928.3 1533.8,929.4 1534.3,926.5 1534.9,927.0 1535.4,926.0 1536.0,927.1 1536.5,926.9 1537.1,926.2 1537.6,927.6 1538.2,927.8 1538.7,926.1 1539.3,927.7 1539.8,928.8 1540.4,927.0 1540.9,925.9 1541.5,926.0 1542.0,927.6 1542.6,928.0 1543.1,927.3 1543.7,927.3 1544.2,927.3 1544.8,927.4 1545.3,926.3 1545.9,928.3 1546.4,929.7 1547.0,927.8 1547.5,926.6 1548.1,927.4 1548.6,926.2 1549.2,926.8 1549.7,927.8 1550.3,927.0 1550.8,927.2 1551.4,924.8 1551.9,925.4 1552.5,927.4 1553.0,926.5 1553.6,923.7 1554.1,927.6 1554.7,926.0 1555.2,925.3 1555.8,927.0 1556.3,926.5 1556.9,924.4 1557.4,923.8 1558.0,925.9 1558.5,925.0 1559.1,924.8 1559.6,923.5 1560.2,922.3 1560.7,921.2 1561.3,921.2 1561.8,922.2 1562.4,921.8 1562.9,919.7 1563.5,918.0 1564.0,917.0 1564.6,919.3 1565.1,916.3 1565.7,913.7 1566.2,914.4 1566.8,914.0 1567.3,911.1 1567.9,909.6 1568.4,909.2 1569.0,909.1 1569.5,906.8 1570.1,904.0 1570.6,904.0 1571.2,902.2 1571.7,901.3 1572.3,900.3 1572.8,899.8 1573.4,898.8 1573.9,899.2 1574.5,895.9 1575.0,895.3 1575.6,894.6 1576.1,893.6 1576.7,895.2 1577.2,894.1 1577.8,891.9 1578.3,893.4 1578.9,892.7 1579.4,894.6 1580.0,894.0 1580.5,892.9 1581.1,895.6 1581.6,898.3 1582.2,896.6 1582.7,896.1 1583.3,900.5 1583.8,899.5 1584.4,902.4 1584.9,902.6 1585.5,903.1 1586.0,905.0 1586.6,905.5 1587.1,907.6 1587.7,909.5 1588.2,909.4 1588.8,912.8 1589.3,914.4 1589.9,912.8 1590.4,916.1 1591.0,916.0 1591.5,915.9 1592.1,917.8 1592.6,919.0 1593.2,918.8 1593.7,920.0 1594.3,920.8 1594.8,922.6 1595.4,922.0 1595.9,922.9 1596.5,923.6 1597.0,924.1 1597.6,923.3 1598.1,922.9 1598.7,924.5 1599.2,924.0 1599.8,925.1 1600.3,923.7 1600.9,924.9 1601.4,924.9 1602.0,925.9 1602.5,925.4 1603.1,925.3 1603.6,926.0 1604.2,924.8 1604.7,924.8 1605.3,925.0 1605.8,925.7 1606.4,925.4 1606.9,924.8 1607.5,924.0 1608.0,925.0 1608.6,922.4 1609.1,922.0 1609.7,922.6 1610.2,923.7 1610.8,923.4 1611.3,921.5 1611.9,919.0 1612.4,920.0 1613.0,920.1 1613.5,917.6 1614.1,917.4 1614.6,918.8 1615.2,916.1 1615.7,916.6 1616.3,913.9 1616.8,913.2 1617.4,912.8 1617.9,912.7 1618.5,911.0 1619.0,909.9 1619.6,908.4 1620.1,908.9 1620.7,905.9 1621.2,906.4 1621.8,903.9 1622.3,905.3 1622.9,902.1 1623.4,902.2 1624.0,900.6 1624.5,901.4 1625.1,901.9 1625.6,899.5 1626.2,900.6 1626.7,898.5 1627.3,901.1 1627.8,898.8 1628.4,898.5 1628.9,898.4 1629.5,899.0 1630.0,900.3 1630.6,900.0 1631.1,899.0 1631.7,899.1 1632.2,899.0 1632.8,902.1 1633.3,901.5 1633.9,901.2 1634.4,903.5 1635.0,906.0 1635.5,904.8 1636.1,906.5 1636.6,906.5 1637.2,909.6 1637.7,909.5 1638.3,911.1 1638.8,911.0 1639.4,912.1 1639.9,913.8 1640.5,913.0 1641.0,917.5 1641.6,918.0 1642.1,917.6 1642.7,917.6 1643.2,919.4 1643.8,920.4 1644.3,919.4 1644.9,920.1 1645.4,921.2 1646.0,921.8 1646.5,921.7 1647.1,923.2 1647.6,924.2 1648.2,924.8 1648.7,924.6 1649.3,925.4 1649.8,924.2 1650.4,924.5 1650.9,925.3 1651.5,924.6 1652.0,924.0 1652.6,927.1 1653.1,925.0 1653.7,924.0 1654.2,926.0 1654.8,926.3 1655.3,926.1 1655.9,925.9 1656.4,926.3 1657.0,926.6 1657.5,927.2 1658.1,926.8 1658.6,926.6 1659.2,927.1 1659.7,926.5 1660.3,926.1 1660.8,927.3 1661.4,925.9 1661.9,927.0 1662.5,927.1 1663.0,927.1"/>
</g>
<g id="ticklabels">
<text transform="translate(145.89,1311.90) scale(0.9507,1)" font-size="75.69" stroke-width="1.44">10</text>
<text transform="translate(359.71,1311.90) scale(0.9147,1)" font-size="75.69" stroke-width="1.44">20</text>
<text transform="translate(571.01,1311.90) scale(0.9146,1)" font-size="75.69" stroke-width="1.44">30</text>
<text transform="translate(782.87,1311.90) scale(0.9141,1)" font-size="75.69" stroke-width="1.44">40</text>
<text transform="translate(994.05,1311.90) scale(0.9147,1)" font-size="75.69" stroke-width="1.44">50</text>
<text transform="translate(1204.78,1311.90) scale(0.9146,1)" font-size="75.69" stroke-width="1.44">60</text>
<text transform="translate(1415.05,1311.90) scale(0.9150,1)" font-size="75.69" stroke-width="1.44">70</text>
<text transform="translate(1627.04,1311.90) scale(0.9145,1)" font-size="75.69" stroke-width="1.44">80</text>
</g>
<g id="titles">
<text transform="translate(715.01,1444.38) scale(0.8931,1)" font-size="95.12" stroke-width="1.81">2</text><text transform="translate(760.41,1443.4) scale(1.107,1)" font-size="86.3" font-weight="normal" style="stroke:#000" stroke-width="0.9">θ</text>
<text transform="translate(826.18,1444.38) scale(0.9143,1)" font-size="95.12" stroke-width="1.81">(degree)</text>
<text transform="translate(86.27,888.15) rotate(-90) scale(1,0.9726)" font-size="93.16" stroke-width="1.77">Intensity (a.u.)</text>
</g>
<g id="legends">
<text transform="translate(1102.21,150.04) scale(0.8761,1)" font-size="69.62" stroke-width="1.32">CuS  JCPDS 06-0464</text>
<text transform="translate(1402.73,479.84) scale(0.8988,1)" font-size="69.62" stroke-width="1.32">CuS</text>
<text transform="translate(1135.30,635.34) scale(0.8824,1)" font-size="69.62" stroke-width="1.32">0.1% CuS/Bi<tspan dy="19.84" font-size="45.25" stroke-width="0.43">2</tspan><tspan dy="-19.84">WO</tspan><tspan dy="19.84" font-size="45.25" stroke-width="0.43">6</tspan></text>
<text transform="translate(1323.78,846.64) scale(0.8872,1)" font-size="69.62" stroke-width="1.32">Bi<tspan dy="19.84" font-size="45.25" stroke-width="0.43">2</tspan><tspan dy="-19.84">WO</tspan><tspan dy="19.84" font-size="45.25" stroke-width="0.43">6</tspan></text>
<text transform="translate(982.79,1011.64) scale(0.8783,1)" font-size="69.62" stroke-width="1.32">Bi<tspan dy="19.84" font-size="45.25" stroke-width="0.43">2</tspan><tspan dy="-19.84">WO</tspan><tspan dy="19.84" font-size="45.25" stroke-width="0.43">6</tspan><tspan dy="-19.84">  JCPDS 39-0256</tspan></text>
</g>
<g id="hkl">
<text transform="translate(559.23,342.94) rotate(-90) scale(1,0.9414)" font-size="51.91" stroke-width="0.99">(101)</text>
<text transform="translate(605.20,289.43) rotate(-90) scale(1,0.9033)" font-size="51.67" stroke-width="0.98">(102)</text>
<text transform="translate(659.23,240.72) rotate(-90) scale(1,0.9285)" font-size="52.63" stroke-width="1.00">(103)</text>
<text transform="translate(709.85,315.68) rotate(-90) scale(1,0.9373)" font-size="51.55" stroke-width="0.98">(006)</text>
<text transform="translate(998.48,280.76) rotate(-90) scale(1,0.9144)" font-size="53.44" stroke-width="1.02">(110)</text>
<text transform="translate(1097.91,334.45) rotate(-90) scale(1,0.9234)" font-size="52.03" stroke-width="0.99">(108)</text>
<text transform="translate(1236.10,330.02) rotate(-90) scale(1,0.9000)" font-size="53.69" stroke-width="1.02">(116)</text>
<text transform="translate(580.18,1053.22) rotate(-90) scale(1,0.9546)" font-size="52.63" stroke-width="1.00">(131)</text>
<text transform="translate(634.70,1154.38) rotate(-90) scale(1,0.9248)" font-size="50.47" stroke-width="0.96">(060)</text>
<text transform="translate(679.52,1159.88) rotate(-90) scale(1,0.9411)" font-size="50.47" stroke-width="0.96">(200)</text>
<text transform="translate(730.48,1159.90) rotate(-90) scale(1,0.9569)" font-size="51.07" stroke-width="0.97">(002)</text>
<text transform="translate(985.77,1151.89) rotate(-90) scale(1,0.9344)" font-size="50.83" stroke-width="0.97">(202)</text>
<text transform="translate(1160.32,1166.88) rotate(-90) scale(1,0.9139)" font-size="50.47" stroke-width="0.96">(191)</text>
<text transform="translate(1219.52,1173.14) rotate(-90) scale(1,0.9344)" font-size="50.83" stroke-width="0.97">(262)</text>
<text transform="translate(1590.52,1151.89) rotate(-90) scale(1,0.9344)" font-size="50.83" stroke-width="0.97">(193)</text>
<text transform="translate(1640.52,1189.39) rotate(-90) scale(1,0.9344)" font-size="50.83" stroke-width="0.97">(204)</text>
</g>
</g></svg>
</body></html>
